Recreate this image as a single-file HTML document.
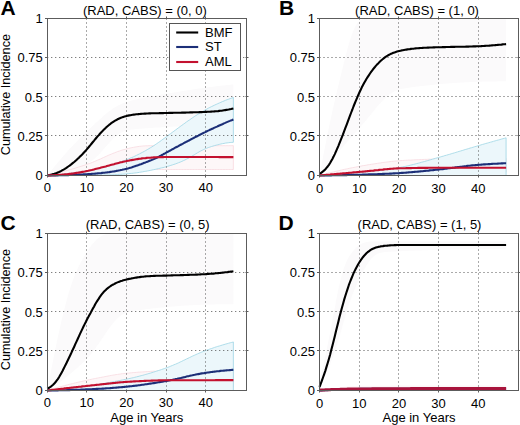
<!DOCTYPE html>
<html><head><meta charset="utf-8"><style>
html,body{margin:0;padding:0;background:#fff;width:520px;height:425px;overflow:hidden}
svg{display:block}
.t{font-family:"Liberation Sans", sans-serif;font-size:13px;fill:#000}
.L{font-family:"Liberation Sans", sans-serif;font-size:21px;font-weight:bold;fill:#000}
</style></head><body>
<svg width="520" height="425" viewBox="0 0 520 425">
<rect width="520" height="425" fill="#fff"/>
<path d="M47.2,175.5 L48.8,173.6 L50.4,171.6 L51.9,169.7 L53.5,167.7 L55.1,165.8 L56.6,163.9 L58.2,162.1 L59.8,160.2 L61.3,158.4 L62.9,156.6 L64.5,154.8 L66.0,153.0 L67.6,151.3 L69.1,149.5 L70.7,147.8 L72.3,146.2 L73.8,144.5 L75.4,142.9 L77.0,141.3 L78.5,139.7 L80.1,138.1 L81.7,136.6 L83.2,135.0 L84.8,133.5 L86.4,132.0 L87.9,130.5 L89.5,129.1 L91.0,127.6 L92.6,126.1 L94.2,124.6 L95.7,123.1 L97.3,121.7 L98.9,120.2 L100.4,118.8 L102.0,117.4 L103.6,116.0 L105.1,114.6 L106.7,113.3 L108.2,112.1 L109.8,110.9 L111.4,109.7 L112.9,108.6 L114.5,107.6 L116.1,106.7 L117.6,105.8 L119.2,105.0 L120.8,104.3 L122.3,103.6 L123.9,103.0 L125.5,102.5 L127.0,101.9 L128.6,101.5 L130.1,101.0 L131.7,100.6 L133.3,100.1 L134.8,99.7 L136.4,99.4 L138.0,99.0 L139.5,98.7 L141.1,98.3 L142.7,98.0 L144.2,97.7 L145.8,97.4 L147.3,97.1 L148.9,96.8 L150.5,96.5 L152.0,96.2 L153.6,96.0 L155.2,95.7 L156.7,95.4 L158.3,95.2 L159.9,94.9 L161.4,94.6 L163.0,94.4 L164.6,94.1 L166.1,93.8 L167.7,93.6 L169.2,93.3 L170.8,93.1 L172.4,92.8 L173.9,92.5 L175.5,92.3 L177.1,92.0 L178.6,91.7 L180.2,91.5 L181.8,91.2 L183.3,91.0 L184.9,90.7 L186.4,90.5 L188.0,90.2 L189.6,90.0 L191.1,89.8 L192.7,89.5 L194.3,89.3 L195.8,89.1 L197.4,88.8 L199.0,88.6 L200.5,88.4 L202.1,88.2 L203.7,87.9 L205.2,87.7 L206.8,87.5 L208.3,87.3 L209.9,87.1 L211.5,86.9 L213.0,86.7 L214.6,86.5 L216.2,86.3 L217.7,86.1 L219.3,85.9 L220.9,85.8 L222.4,85.6 L224.0,85.4 L225.5,85.2 L227.1,85.1 L228.7,84.9 L230.2,84.8 L231.8,84.6 L233.4,84.4 L233.4,125.3 L231.8,125.3 L230.2,125.3 L228.7,125.3 L227.1,125.3 L225.5,125.3 L224.0,125.3 L222.4,125.3 L220.9,125.3 L219.3,125.3 L217.7,125.4 L216.2,125.4 L214.6,125.4 L213.0,125.4 L211.5,125.4 L209.9,125.5 L208.3,125.5 L206.8,125.5 L205.2,125.5 L203.7,125.6 L202.1,125.6 L200.5,125.6 L199.0,125.7 L197.4,125.7 L195.8,125.8 L194.3,125.8 L192.7,125.9 L191.1,125.9 L189.6,126.0 L188.0,126.0 L186.4,126.1 L184.9,126.1 L183.3,126.2 L181.8,126.2 L180.2,126.3 L178.6,126.4 L177.1,126.4 L175.5,126.5 L173.9,126.6 L172.4,126.7 L170.8,126.7 L169.2,126.8 L167.7,126.9 L166.1,127.0 L164.6,127.1 L163.0,127.2 L161.4,127.3 L159.9,127.4 L158.3,127.4 L156.7,127.5 L155.2,127.6 L153.6,127.8 L152.0,127.9 L150.5,128.0 L148.9,128.1 L147.3,128.2 L145.8,128.3 L144.2,128.4 L142.7,128.6 L141.1,128.7 L139.5,128.8 L138.0,128.9 L136.4,129.1 L134.8,129.2 L133.3,129.4 L131.7,129.5 L130.1,129.8 L128.6,130.0 L127.0,130.3 L125.5,130.8 L123.9,131.3 L122.3,132.0 L120.8,132.8 L119.2,133.8 L117.6,134.9 L116.1,136.1 L114.5,137.5 L112.9,139.0 L111.4,140.6 L109.8,142.2 L108.2,143.9 L106.7,145.7 L105.1,147.5 L103.6,149.2 L102.0,151.0 L100.4,152.7 L98.9,154.4 L97.3,156.0 L95.7,157.5 L94.2,158.9 L92.6,160.2 L91.0,161.4 L89.5,162.5 L87.9,163.5 L86.4,164.4 L84.8,165.2 L83.2,165.9 L81.7,166.6 L80.1,167.2 L78.5,167.9 L77.0,168.5 L75.4,169.1 L73.8,169.7 L72.3,170.2 L70.7,170.8 L69.1,171.3 L67.6,171.8 L66.0,172.3 L64.5,172.7 L62.9,173.1 L61.3,173.5 L59.8,173.9 L58.2,174.2 L56.6,174.5 L55.1,174.7 L53.5,174.9 L51.9,175.1 L50.4,175.2 L48.8,175.3 L47.2,175.4Z" fill="#fbfafb" stroke="none"/>
<path d="M47.2,175.5 L48.8,175.1 L50.4,174.8 L51.9,174.4 L53.5,174.0 L55.1,173.7 L56.6,173.3 L58.2,172.9 L59.8,172.5 L61.3,172.1 L62.9,171.7 L64.5,171.2 L66.0,170.8 L67.6,170.4 L69.1,169.9 L70.7,169.5 L72.3,169.0 L73.8,168.6 L75.4,168.1 L77.0,167.6 L78.5,167.1 L80.1,166.6 L81.7,166.1 L83.2,165.6 L84.8,165.1 L86.4,164.6 L87.9,164.0 L89.5,163.5 L91.0,162.9 L92.6,162.3 L94.2,161.6 L95.7,161.0 L97.3,160.3 L98.9,159.6 L100.4,159.0 L102.0,158.2 L103.6,157.5 L105.1,156.8 L106.7,156.1 L108.2,155.4 L109.8,154.7 L111.4,154.1 L112.9,153.4 L114.5,152.8 L116.1,152.2 L117.6,151.6 L119.2,151.1 L120.8,150.5 L122.3,150.0 L123.9,149.6 L125.5,149.2 L127.0,148.8 L128.6,148.4 L130.1,148.0 L131.7,147.7 L133.3,147.4 L134.8,147.1 L136.4,146.8 L138.0,146.6 L139.5,146.4 L141.1,146.2 L142.7,146.0 L144.2,145.9 L145.8,145.8 L147.3,145.8 L148.9,145.7 L150.5,145.7 L152.0,145.7 L153.6,145.7 L155.2,145.7 L156.7,145.7 L158.3,145.7 L159.9,145.7 L161.4,145.7 L163.0,145.7 L164.6,145.7 L166.1,145.7 L167.7,145.7 L169.2,145.7 L170.8,145.7 L172.4,145.7 L173.9,145.7 L175.5,145.7 L177.1,145.7 L178.6,145.7 L180.2,145.7 L181.8,145.7 L183.3,145.7 L184.9,145.7 L186.4,145.7 L188.0,145.7 L189.6,145.7 L191.1,145.7 L192.7,145.7 L194.3,145.7 L195.8,145.7 L197.4,145.7 L199.0,145.7 L200.5,145.7 L202.1,145.7 L203.7,145.7 L205.2,145.7 L206.8,145.7 L208.3,145.7 L209.9,145.7 L211.5,145.7 L213.0,145.7 L214.6,145.7 L216.2,145.7 L217.7,145.7 L219.3,145.7 L220.9,145.7 L222.4,145.7 L224.0,145.7 L225.5,145.7 L227.1,145.7 L228.7,145.7 L230.2,145.7 L231.8,145.7 L233.4,145.7 L233.4,169.5 L231.8,169.5 L230.2,169.5 L228.7,169.5 L227.1,169.5 L225.5,169.5 L224.0,169.5 L222.4,169.5 L220.9,169.5 L219.3,169.5 L217.7,169.5 L216.2,169.5 L214.6,169.5 L213.0,169.5 L211.5,169.5 L209.9,169.5 L208.3,169.5 L206.8,169.5 L205.2,169.5 L203.7,169.5 L202.1,169.5 L200.5,169.5 L199.0,169.5 L197.4,169.5 L195.8,169.5 L194.3,169.5 L192.7,169.5 L191.1,169.5 L189.6,169.5 L188.0,169.5 L186.4,169.5 L184.9,169.5 L183.3,169.5 L181.8,169.5 L180.2,169.5 L178.6,169.5 L177.1,169.5 L175.5,169.5 L173.9,169.5 L172.4,169.5 L170.8,169.5 L169.2,169.5 L167.7,169.5 L166.1,169.5 L164.6,169.5 L163.0,169.5 L161.4,169.5 L159.9,169.5 L158.3,169.5 L156.7,169.5 L155.2,169.5 L153.6,169.5 L152.0,169.5 L150.5,169.5 L148.9,169.6 L147.3,169.6 L145.8,169.6 L144.2,169.6 L142.7,169.7 L141.1,169.8 L139.5,169.8 L138.0,169.9 L136.4,170.0 L134.8,170.2 L133.3,170.3 L131.7,170.4 L130.1,170.5 L128.6,170.6 L127.0,170.7 L125.5,170.8 L123.9,170.9 L122.3,171.0 L120.8,171.1 L119.2,171.2 L117.6,171.3 L116.1,171.4 L114.5,171.5 L112.9,171.6 L111.4,171.7 L109.8,171.8 L108.2,171.9 L106.7,172.0 L105.1,172.1 L103.6,172.2 L102.0,172.3 L100.4,172.4 L98.9,172.5 L97.3,172.6 L95.7,172.7 L94.2,172.8 L92.6,172.9 L91.0,172.9 L89.5,173.0 L87.9,173.1 L86.4,173.2 L84.8,173.3 L83.2,173.4 L81.7,173.5 L80.1,173.6 L78.5,173.7 L77.0,173.8 L75.4,173.9 L73.8,174.0 L72.3,174.1 L70.7,174.2 L69.1,174.2 L67.6,174.3 L66.0,174.4 L64.5,174.5 L62.9,174.6 L61.3,174.7 L59.8,174.8 L58.2,174.9 L56.6,175.0 L55.1,175.1 L53.5,175.1 L51.9,175.2 L50.4,175.3 L48.8,175.4 L47.2,175.5Z" fill="#fdf7f8" stroke="none"/>
<path d="M47.2,175.5 L48.8,175.1 L50.4,174.8 L51.9,174.4 L53.5,174.0 L55.1,173.7 L56.6,173.3 L58.2,172.9 L59.8,172.5 L61.3,172.1 L62.9,171.7 L64.5,171.2 L66.0,170.8 L67.6,170.4 L69.1,169.9 L70.7,169.5 L72.3,169.0 L73.8,168.6 L75.4,168.1 L77.0,167.6 L78.5,167.1 L80.1,166.6 L81.7,166.1 L83.2,165.6 L84.8,165.1 L86.4,164.6 L87.9,164.0 L89.5,163.5 L91.0,162.9 L92.6,162.3 L94.2,161.6 L95.7,161.0 L97.3,160.3 L98.9,159.6 L100.4,159.0 L102.0,158.2 L103.6,157.5 L105.1,156.8 L106.7,156.1 L108.2,155.4 L109.8,154.7 L111.4,154.1 L112.9,153.4 L114.5,152.8 L116.1,152.2 L117.6,151.6 L119.2,151.1 L120.8,150.5 L122.3,150.0 L123.9,149.6 L125.5,149.2 L127.0,148.8 L128.6,148.4 L130.1,148.0 L131.7,147.7 L133.3,147.4 L134.8,147.1 L136.4,146.8 L138.0,146.6 L139.5,146.4 L141.1,146.2 L142.7,146.0 L144.2,145.9 L145.8,145.8 L147.3,145.8 L148.9,145.7 L150.5,145.7 L152.0,145.7 L153.6,145.7 L155.2,145.7 L156.7,145.7 L158.3,145.7 L159.9,145.7 L161.4,145.7 L163.0,145.7 L164.6,145.7 L166.1,145.7 L167.7,145.7 L169.2,145.7 L170.8,145.7 L172.4,145.7 L173.9,145.7 L175.5,145.7 L177.1,145.7 L178.6,145.7 L180.2,145.7 L181.8,145.7 L183.3,145.7 L184.9,145.7 L186.4,145.7 L188.0,145.7 L189.6,145.7 L191.1,145.7 L192.7,145.7 L194.3,145.7 L195.8,145.7 L197.4,145.7 L199.0,145.7 L200.5,145.7 L202.1,145.7 L203.7,145.7 L205.2,145.7 L206.8,145.7 L208.3,145.7 L209.9,145.7 L211.5,145.7 L213.0,145.7 L214.6,145.7 L216.2,145.7 L217.7,145.7 L219.3,145.7 L220.9,145.7 L222.4,145.7 L224.0,145.7 L225.5,145.7 L227.1,145.7 L228.7,145.7 L230.2,145.7 L231.8,145.7 L233.4,145.7" fill="none" stroke="#f7d9e0" stroke-width="0.8"/>
<path d="M47.2,175.5 L48.8,175.4 L50.4,175.3 L51.9,175.2 L53.5,175.1 L55.1,175.1 L56.6,175.0 L58.2,174.9 L59.8,174.8 L61.3,174.7 L62.9,174.6 L64.5,174.5 L66.0,174.4 L67.6,174.3 L69.1,174.2 L70.7,174.2 L72.3,174.1 L73.8,174.0 L75.4,173.9 L77.0,173.8 L78.5,173.7 L80.1,173.6 L81.7,173.5 L83.2,173.4 L84.8,173.3 L86.4,173.2 L87.9,173.1 L89.5,173.0 L91.0,172.9 L92.6,172.9 L94.2,172.8 L95.7,172.7 L97.3,172.6 L98.9,172.5 L100.4,172.4 L102.0,172.3 L103.6,172.2 L105.1,172.1 L106.7,172.0 L108.2,171.9 L109.8,171.8 L111.4,171.7 L112.9,171.6 L114.5,171.5 L116.1,171.4 L117.6,171.3 L119.2,171.2 L120.8,171.1 L122.3,171.0 L123.9,170.9 L125.5,170.8 L127.0,170.7 L128.6,170.6 L130.1,170.5 L131.7,170.4 L133.3,170.3 L134.8,170.2 L136.4,170.0 L138.0,169.9 L139.5,169.8 L141.1,169.8 L142.7,169.7 L144.2,169.6 L145.8,169.6 L147.3,169.6 L148.9,169.6 L150.5,169.5 L152.0,169.5 L153.6,169.5 L155.2,169.5 L156.7,169.5 L158.3,169.5 L159.9,169.5 L161.4,169.5 L163.0,169.5 L164.6,169.5 L166.1,169.5 L167.7,169.5 L169.2,169.5 L170.8,169.5 L172.4,169.5 L173.9,169.5 L175.5,169.5 L177.1,169.5 L178.6,169.5 L180.2,169.5 L181.8,169.5 L183.3,169.5 L184.9,169.5 L186.4,169.5 L188.0,169.5 L189.6,169.5 L191.1,169.5 L192.7,169.5 L194.3,169.5 L195.8,169.5 L197.4,169.5 L199.0,169.5 L200.5,169.5 L202.1,169.5 L203.7,169.5 L205.2,169.5 L206.8,169.5 L208.3,169.5 L209.9,169.5 L211.5,169.5 L213.0,169.5 L214.6,169.5 L216.2,169.5 L217.7,169.5 L219.3,169.5 L220.9,169.5 L222.4,169.5 L224.0,169.5 L225.5,169.5 L227.1,169.5 L228.7,169.5 L230.2,169.5 L231.8,169.5 L233.4,169.5" fill="none" stroke="#f7d9e0" stroke-width="0.8"/>
<line x1="233.37" y1="145.67" x2="233.37" y2="169.53" stroke="#f7d9e0" stroke-width="0.8"/>
<path d="M47.2,175.5 L48.8,175.4 L50.4,175.3 L51.9,175.2 L53.5,175.1 L55.1,175.0 L56.6,174.8 L58.2,174.7 L59.8,174.6 L61.3,174.4 L62.9,174.2 L64.5,174.1 L66.0,173.9 L67.6,173.7 L69.1,173.5 L70.7,173.3 L72.3,173.0 L73.8,172.8 L75.4,172.6 L77.0,172.4 L78.5,172.1 L80.1,171.9 L81.7,171.6 L83.2,171.4 L84.8,171.1 L86.4,170.8 L87.9,170.6 L89.5,170.3 L91.0,170.0 L92.6,169.7 L94.2,169.3 L95.7,169.0 L97.3,168.6 L98.9,168.3 L100.4,167.9 L102.0,167.5 L103.6,167.1 L105.1,166.6 L106.7,166.2 L108.2,165.8 L109.8,165.3 L111.4,164.8 L112.9,164.3 L114.5,163.9 L116.1,163.3 L117.6,162.8 L119.2,162.3 L120.8,161.8 L122.3,161.2 L123.9,160.7 L125.5,160.1 L127.0,159.5 L128.6,158.9 L130.1,158.2 L131.7,157.6 L133.3,156.9 L134.8,156.2 L136.4,155.4 L138.0,154.6 L139.5,153.9 L141.1,153.0 L142.7,152.2 L144.2,151.4 L145.8,150.5 L147.3,149.6 L148.9,148.7 L150.5,147.7 L152.0,146.8 L153.6,145.8 L155.2,144.7 L156.7,143.7 L158.3,142.6 L159.9,141.5 L161.4,140.4 L163.0,139.2 L164.6,138.1 L166.1,137.0 L167.7,135.8 L169.2,134.6 L170.8,133.5 L172.4,132.3 L173.9,131.2 L175.5,130.0 L177.1,128.8 L178.6,127.7 L180.2,126.5 L181.8,125.4 L183.3,124.3 L184.9,123.2 L186.4,122.0 L188.0,120.9 L189.6,119.9 L191.1,118.8 L192.7,117.7 L194.3,116.6 L195.8,115.6 L197.4,114.6 L199.0,113.6 L200.5,112.6 L202.1,111.7 L203.7,110.8 L205.2,109.9 L206.8,109.1 L208.3,108.2 L209.9,107.4 L211.5,106.6 L213.0,105.9 L214.6,105.1 L216.2,104.4 L217.7,103.7 L219.3,103.0 L220.9,102.3 L222.4,101.6 L224.0,101.0 L225.5,100.3 L227.1,99.7 L228.7,99.2 L230.2,98.6 L231.8,98.0 L233.4,97.5 L233.4,142.3 L231.8,142.4 L230.2,142.5 L228.7,142.7 L227.1,142.9 L225.5,143.1 L224.0,143.4 L222.4,143.7 L220.9,144.0 L219.3,144.4 L217.7,144.8 L216.2,145.2 L214.6,145.6 L213.0,146.1 L211.5,146.5 L209.9,147.1 L208.3,147.6 L206.8,148.2 L205.2,148.8 L203.7,149.5 L202.1,150.3 L200.5,151.1 L199.0,151.9 L197.4,152.9 L195.8,153.8 L194.3,154.8 L192.7,155.7 L191.1,156.7 L189.6,157.6 L188.0,158.4 L186.4,159.2 L184.9,160.0 L183.3,160.7 L181.8,161.4 L180.2,162.1 L178.6,162.7 L177.1,163.3 L175.5,163.9 L173.9,164.4 L172.4,164.9 L170.8,165.4 L169.2,165.9 L167.7,166.3 L166.1,166.8 L164.6,167.2 L163.0,167.6 L161.4,167.9 L159.9,168.3 L158.3,168.7 L156.7,169.0 L155.2,169.4 L153.6,169.7 L152.0,170.0 L150.5,170.4 L148.9,170.7 L147.3,171.0 L145.8,171.3 L144.2,171.5 L142.7,171.8 L141.1,172.1 L139.5,172.3 L138.0,172.6 L136.4,172.8 L134.8,173.0 L133.3,173.2 L131.7,173.4 L130.1,173.5 L128.6,173.7 L127.0,173.8 L125.5,174.0 L123.9,174.1 L122.3,174.2 L120.8,174.3 L119.2,174.4 L117.6,174.5 L116.1,174.6 L114.5,174.7 L112.9,174.8 L111.4,174.9 L109.8,174.9 L108.2,175.0 L106.7,175.0 L105.1,175.0 L103.6,175.1 L102.0,175.1 L100.4,175.1 L98.9,175.1 L97.3,175.2 L95.7,175.2 L94.2,175.2 L92.6,175.2 L91.0,175.2 L89.5,175.3 L87.9,175.3 L86.4,175.3 L84.8,175.3 L83.2,175.3 L81.7,175.3 L80.1,175.4 L78.5,175.4 L77.0,175.4 L75.4,175.4 L73.8,175.4 L72.3,175.4 L70.7,175.4 L69.1,175.4 L67.6,175.4 L66.0,175.4 L64.5,175.5 L62.9,175.5 L61.3,175.5 L59.8,175.5 L58.2,175.5 L56.6,175.5 L55.1,175.5 L53.5,175.5 L51.9,175.5 L50.4,175.5 L48.8,175.5 L47.2,175.5Z" fill="#ecf7fb" stroke="none"/>
<path d="M47.2,175.5 L48.8,175.4 L50.4,175.3 L51.9,175.2 L53.5,175.1 L55.1,175.0 L56.6,174.8 L58.2,174.7 L59.8,174.6 L61.3,174.4 L62.9,174.2 L64.5,174.1 L66.0,173.9 L67.6,173.7 L69.1,173.5 L70.7,173.3 L72.3,173.0 L73.8,172.8 L75.4,172.6 L77.0,172.4 L78.5,172.1 L80.1,171.9 L81.7,171.6 L83.2,171.4 L84.8,171.1 L86.4,170.8 L87.9,170.6 L89.5,170.3 L91.0,170.0 L92.6,169.7 L94.2,169.3 L95.7,169.0 L97.3,168.6 L98.9,168.3 L100.4,167.9 L102.0,167.5 L103.6,167.1 L105.1,166.6 L106.7,166.2 L108.2,165.8 L109.8,165.3 L111.4,164.8 L112.9,164.3 L114.5,163.9 L116.1,163.3 L117.6,162.8 L119.2,162.3 L120.8,161.8 L122.3,161.2 L123.9,160.7 L125.5,160.1 L127.0,159.5 L128.6,158.9 L130.1,158.2 L131.7,157.6 L133.3,156.9 L134.8,156.2 L136.4,155.4 L138.0,154.6 L139.5,153.9 L141.1,153.0 L142.7,152.2 L144.2,151.4 L145.8,150.5 L147.3,149.6 L148.9,148.7 L150.5,147.7 L152.0,146.8 L153.6,145.8 L155.2,144.7 L156.7,143.7 L158.3,142.6 L159.9,141.5 L161.4,140.4 L163.0,139.2 L164.6,138.1 L166.1,137.0 L167.7,135.8 L169.2,134.6 L170.8,133.5 L172.4,132.3 L173.9,131.2 L175.5,130.0 L177.1,128.8 L178.6,127.7 L180.2,126.5 L181.8,125.4 L183.3,124.3 L184.9,123.2 L186.4,122.0 L188.0,120.9 L189.6,119.9 L191.1,118.8 L192.7,117.7 L194.3,116.6 L195.8,115.6 L197.4,114.6 L199.0,113.6 L200.5,112.6 L202.1,111.7 L203.7,110.8 L205.2,109.9 L206.8,109.1 L208.3,108.2 L209.9,107.4 L211.5,106.6 L213.0,105.9 L214.6,105.1 L216.2,104.4 L217.7,103.7 L219.3,103.0 L220.9,102.3 L222.4,101.6 L224.0,101.0 L225.5,100.3 L227.1,99.7 L228.7,99.2 L230.2,98.6 L231.8,98.0 L233.4,97.5" fill="none" stroke="#9dd5e4" stroke-width="0.8"/>
<path d="M47.2,175.5 L48.8,175.5 L50.4,175.5 L51.9,175.5 L53.5,175.5 L55.1,175.5 L56.6,175.5 L58.2,175.5 L59.8,175.5 L61.3,175.5 L62.9,175.5 L64.5,175.5 L66.0,175.4 L67.6,175.4 L69.1,175.4 L70.7,175.4 L72.3,175.4 L73.8,175.4 L75.4,175.4 L77.0,175.4 L78.5,175.4 L80.1,175.4 L81.7,175.3 L83.2,175.3 L84.8,175.3 L86.4,175.3 L87.9,175.3 L89.5,175.3 L91.0,175.2 L92.6,175.2 L94.2,175.2 L95.7,175.2 L97.3,175.2 L98.9,175.1 L100.4,175.1 L102.0,175.1 L103.6,175.1 L105.1,175.0 L106.7,175.0 L108.2,175.0 L109.8,174.9 L111.4,174.9 L112.9,174.8 L114.5,174.7 L116.1,174.6 L117.6,174.5 L119.2,174.4 L120.8,174.3 L122.3,174.2 L123.9,174.1 L125.5,174.0 L127.0,173.8 L128.6,173.7 L130.1,173.5 L131.7,173.4 L133.3,173.2 L134.8,173.0 L136.4,172.8 L138.0,172.6 L139.5,172.3 L141.1,172.1 L142.7,171.8 L144.2,171.5 L145.8,171.3 L147.3,171.0 L148.9,170.7 L150.5,170.4 L152.0,170.0 L153.6,169.7 L155.2,169.4 L156.7,169.0 L158.3,168.7 L159.9,168.3 L161.4,167.9 L163.0,167.6 L164.6,167.2 L166.1,166.8 L167.7,166.3 L169.2,165.9 L170.8,165.4 L172.4,164.9 L173.9,164.4 L175.5,163.9 L177.1,163.3 L178.6,162.7 L180.2,162.1 L181.8,161.4 L183.3,160.7 L184.9,160.0 L186.4,159.2 L188.0,158.4 L189.6,157.6 L191.1,156.7 L192.7,155.7 L194.3,154.8 L195.8,153.8 L197.4,152.9 L199.0,151.9 L200.5,151.1 L202.1,150.3 L203.7,149.5 L205.2,148.8 L206.8,148.2 L208.3,147.6 L209.9,147.1 L211.5,146.5 L213.0,146.1 L214.6,145.6 L216.2,145.2 L217.7,144.8 L219.3,144.4 L220.9,144.0 L222.4,143.7 L224.0,143.4 L225.5,143.1 L227.1,142.9 L228.7,142.7 L230.2,142.5 L231.8,142.4 L233.4,142.3" fill="none" stroke="#9dd5e4" stroke-width="0.8"/>
<line x1="233.37" y1="97.47" x2="233.37" y2="142.22" stroke="#9dd5e4" stroke-width="0.8"/>
<line x1="47.50" y1="18.50" x2="47.50" y2="175.50" stroke="#555555" stroke-width="1" stroke-dasharray="1,3"/>
<line x1="86.50" y1="18.50" x2="86.50" y2="175.50" stroke="#555555" stroke-width="1" stroke-dasharray="1,3"/>
<line x1="126.50" y1="18.50" x2="126.50" y2="175.50" stroke="#555555" stroke-width="1" stroke-dasharray="1,3"/>
<line x1="166.50" y1="18.50" x2="166.50" y2="175.50" stroke="#555555" stroke-width="1" stroke-dasharray="1,3"/>
<line x1="205.50" y1="18.50" x2="205.50" y2="175.50" stroke="#555555" stroke-width="1" stroke-dasharray="1,3"/>
<line x1="47.25" y1="135.50" x2="246.50" y2="135.50" stroke="#555555" stroke-width="1" stroke-dasharray="1,3"/>
<line x1="47.25" y1="96.50" x2="246.50" y2="96.50" stroke="#555555" stroke-width="1" stroke-dasharray="1,3"/>
<line x1="47.25" y1="57.50" x2="246.50" y2="57.50" stroke="#555555" stroke-width="1" stroke-dasharray="1,3"/>
<path d="M47.2,175.4 L48.4,175.2 L49.6,175.0 L50.8,174.7 L51.9,174.4 L53.1,174.1 L54.3,173.8 L55.4,173.4 L56.6,173.0 L57.8,172.5 L59.0,172.0 L60.1,171.5 L61.3,170.9 L62.5,170.2 L63.6,169.6 L64.8,168.9 L66.0,168.1 L67.1,167.3 L68.3,166.5 L69.5,165.7 L70.7,164.8 L71.8,163.9 L73.0,162.9 L74.2,162.0 L75.3,161.0 L76.5,159.9 L77.7,158.8 L78.9,157.7 L80.0,156.6 L81.2,155.4 L82.4,154.2 L83.5,153.0 L84.7,151.7 L85.9,150.4 L87.0,149.1 L88.2,147.7 L89.4,146.3 L90.6,144.9 L91.7,143.5 L92.9,142.0 L94.1,140.6 L95.2,139.2 L96.4,137.8 L97.6,136.4 L98.8,135.1 L99.9,133.8 L101.1,132.5 L102.3,131.3 L103.4,130.1 L104.6,128.9 L105.8,127.8 L106.9,126.7 L108.1,125.7 L109.3,124.7 L110.5,123.8 L111.6,122.9 L112.8,122.1 L114.0,121.3 L115.1,120.6 L116.3,120.0 L117.5,119.3 L118.7,118.7 L119.8,118.2 L121.0,117.7 L122.2,117.3 L123.3,116.9 L124.5,116.5 L125.7,116.2 L126.8,115.9 L128.0,115.6 L129.2,115.4 L130.4,115.2 L131.5,115.0 L132.7,114.8 L133.9,114.6 L135.0,114.5 L136.2,114.3 L137.4,114.2 L138.6,114.1 L139.7,114.0 L140.9,113.9 L142.1,113.8 L143.2,113.7 L144.4,113.6 L145.6,113.6 L146.7,113.5 L147.9,113.5 L149.1,113.4 L150.3,113.4 L151.4,113.3 L152.6,113.3 L153.8,113.3 L154.9,113.3 L156.1,113.2 L157.3,113.2 L158.5,113.2 L159.6,113.1 L160.8,113.1 L162.0,113.1 L163.1,113.1 L164.3,113.0 L165.5,113.0 L166.6,113.0 L167.8,113.0 L169.0,112.9 L170.2,112.9 L171.3,112.9 L172.5,112.9 L173.7,112.8 L174.8,112.8 L176.0,112.8 L177.2,112.8 L178.4,112.7 L179.5,112.7 L180.7,112.7 L181.9,112.6 L183.0,112.6 L184.2,112.6 L185.4,112.6 L186.5,112.5 L187.7,112.5 L188.9,112.5 L190.1,112.4 L191.2,112.4 L192.4,112.4 L193.6,112.3 L194.7,112.3 L195.9,112.3 L197.1,112.2 L198.3,112.2 L199.4,112.1 L200.6,112.1 L201.8,112.1 L202.9,112.0 L204.1,112.0 L205.3,111.9 L206.4,111.9 L207.6,111.8 L208.8,111.7 L210.0,111.7 L211.1,111.6 L212.3,111.5 L213.5,111.5 L214.6,111.4 L215.8,111.3 L217.0,111.2 L218.2,111.1 L219.3,110.9 L220.5,110.8 L221.7,110.7 L222.8,110.5 L224.0,110.3 L225.2,110.1 L226.3,109.9 L227.5,109.7 L228.7,109.5 L229.9,109.2 L231.0,109.0 L232.2,108.7 L233.4,108.4" fill="none" stroke="#000" stroke-width="2.10" stroke-linejoin="round"/>
<path d="M47.2,175.5 L48.4,175.5 L49.6,175.5 L50.8,175.5 L51.9,175.5 L53.1,175.4 L54.3,175.4 L55.4,175.4 L56.6,175.4 L57.8,175.4 L59.0,175.3 L60.1,175.3 L61.3,175.3 L62.5,175.2 L63.6,175.2 L64.8,175.2 L66.0,175.1 L67.1,175.1 L68.3,175.1 L69.5,175.0 L70.7,175.0 L71.8,174.9 L73.0,174.9 L74.2,174.8 L75.3,174.8 L76.5,174.7 L77.7,174.7 L78.9,174.6 L80.0,174.6 L81.2,174.5 L82.4,174.5 L83.5,174.4 L84.7,174.3 L85.9,174.3 L87.0,174.2 L88.2,174.1 L89.4,174.1 L90.6,174.0 L91.7,173.9 L92.9,173.8 L94.1,173.7 L95.2,173.6 L96.4,173.5 L97.6,173.4 L98.8,173.3 L99.9,173.2 L101.1,173.1 L102.3,172.9 L103.4,172.8 L104.6,172.7 L105.8,172.5 L106.9,172.4 L108.1,172.2 L109.3,172.1 L110.5,171.9 L111.6,171.7 L112.8,171.5 L114.0,171.4 L115.1,171.2 L116.3,170.9 L117.5,170.7 L118.7,170.5 L119.8,170.3 L121.0,170.0 L122.2,169.8 L123.3,169.5 L124.5,169.3 L125.7,169.0 L126.8,168.7 L128.0,168.4 L129.2,168.1 L130.4,167.7 L131.5,167.4 L132.7,167.0 L133.9,166.6 L135.0,166.2 L136.2,165.8 L137.4,165.4 L138.6,165.0 L139.7,164.6 L140.9,164.2 L142.1,163.7 L143.2,163.3 L144.4,162.8 L145.6,162.4 L146.7,161.9 L147.9,161.5 L149.1,161.0 L150.3,160.6 L151.4,160.1 L152.6,159.6 L153.8,159.1 L154.9,158.6 L156.1,158.0 L157.3,157.5 L158.5,156.9 L159.6,156.3 L160.8,155.7 L162.0,155.0 L163.1,154.4 L164.3,153.7 L165.5,153.1 L166.6,152.4 L167.8,151.8 L169.0,151.1 L170.2,150.5 L171.3,149.9 L172.5,149.2 L173.7,148.6 L174.8,147.9 L176.0,147.3 L177.2,146.7 L178.4,146.1 L179.5,145.4 L180.7,144.8 L181.9,144.2 L183.0,143.6 L184.2,142.9 L185.4,142.3 L186.5,141.7 L187.7,141.1 L188.9,140.5 L190.1,139.8 L191.2,139.2 L192.4,138.6 L193.6,138.0 L194.7,137.4 L195.9,136.8 L197.1,136.2 L198.3,135.6 L199.4,135.0 L200.6,134.4 L201.8,133.8 L202.9,133.2 L204.1,132.6 L205.3,132.1 L206.4,131.5 L207.6,130.9 L208.8,130.4 L210.0,129.8 L211.1,129.3 L212.3,128.7 L213.5,128.2 L214.6,127.6 L215.8,127.1 L217.0,126.6 L218.2,126.0 L219.3,125.5 L220.5,125.0 L221.7,124.5 L222.8,124.0 L224.0,123.4 L225.2,122.9 L226.3,122.4 L227.5,121.9 L228.7,121.4 L229.9,120.9 L231.0,120.4 L232.2,120.0 L233.4,119.5" fill="none" stroke="#1c2f78" stroke-width="2.10" stroke-linejoin="round"/>
<path d="M47.2,175.5 L48.4,175.4 L49.6,175.4 L50.8,175.4 L51.9,175.3 L53.1,175.2 L54.3,175.2 L55.4,175.1 L56.6,175.0 L57.8,175.0 L59.0,174.9 L60.1,174.8 L61.3,174.7 L62.5,174.6 L63.6,174.5 L64.8,174.4 L66.0,174.3 L67.1,174.2 L68.3,174.0 L69.5,173.9 L70.7,173.8 L71.8,173.6 L73.0,173.5 L74.2,173.3 L75.3,173.1 L76.5,172.9 L77.7,172.8 L78.9,172.6 L80.0,172.4 L81.2,172.1 L82.4,171.9 L83.5,171.7 L84.7,171.5 L85.9,171.2 L87.0,171.0 L88.2,170.8 L89.4,170.5 L90.6,170.2 L91.7,170.0 L92.9,169.7 L94.1,169.4 L95.2,169.1 L96.4,168.8 L97.6,168.5 L98.8,168.2 L99.9,167.9 L101.1,167.6 L102.3,167.3 L103.4,167.0 L104.6,166.7 L105.8,166.4 L106.9,166.0 L108.1,165.7 L109.3,165.4 L110.5,165.1 L111.6,164.8 L112.8,164.5 L114.0,164.2 L115.1,163.8 L116.3,163.5 L117.5,163.2 L118.7,162.9 L119.8,162.6 L121.0,162.3 L122.2,162.1 L123.3,161.8 L124.5,161.5 L125.7,161.3 L126.8,161.0 L128.0,160.8 L129.2,160.6 L130.4,160.3 L131.5,160.1 L132.7,159.9 L133.9,159.7 L135.0,159.5 L136.2,159.3 L137.4,159.1 L138.6,158.9 L139.7,158.7 L140.9,158.6 L142.1,158.4 L143.2,158.3 L144.4,158.2 L145.6,158.1 L146.7,157.9 L147.9,157.8 L149.1,157.7 L150.3,157.7 L151.4,157.6 L152.6,157.5 L153.8,157.4 L154.9,157.4 L156.1,157.3 L157.3,157.3 L158.5,157.2 L159.6,157.2 L160.8,157.1 L162.0,157.1 L163.1,157.1 L164.3,157.0 L165.5,157.0 L166.6,157.0 L167.8,157.0 L169.0,157.0 L170.2,157.0 L171.3,157.0 L172.5,157.0 L173.7,157.0 L174.8,157.0 L176.0,157.0 L177.2,157.0 L178.4,157.0 L179.5,157.0 L180.7,157.0 L181.9,157.0 L183.0,157.0 L184.2,157.0 L185.4,157.0 L186.5,157.0 L187.7,157.0 L188.9,157.0 L190.1,157.0 L191.2,157.0 L192.4,157.0 L193.6,157.0 L194.7,157.0 L195.9,157.0 L197.1,157.0 L198.3,157.0 L199.4,157.0 L200.6,157.0 L201.8,157.0 L202.9,157.0 L204.1,157.0 L205.3,157.0 L206.4,157.0 L207.6,157.0 L208.8,157.0 L210.0,157.0 L211.1,157.0 L212.3,157.0 L213.5,157.0 L214.6,157.0 L215.8,157.0 L217.0,157.0 L218.2,157.0 L219.3,157.1 L220.5,157.1 L221.7,157.1 L222.8,157.1 L224.0,157.1 L225.2,157.1 L226.3,157.1 L227.5,157.1 L228.7,157.1 L229.9,157.1 L231.0,157.1 L232.2,157.1 L233.4,157.1" fill="none" stroke="#c3112f" stroke-width="2.10" stroke-linejoin="round"/>
<rect x="47.50" y="18.50" width="199.00" height="157.00" fill="none" stroke="#5c5c5c" stroke-width="1"/>
<line x1="47.50" y1="175.50" x2="47.50" y2="177.50" stroke="#5c5c5c" stroke-width="1"/>
<line x1="86.50" y1="175.50" x2="86.50" y2="177.50" stroke="#5c5c5c" stroke-width="1"/>
<line x1="126.50" y1="175.50" x2="126.50" y2="177.50" stroke="#5c5c5c" stroke-width="1"/>
<line x1="166.50" y1="175.50" x2="166.50" y2="177.50" stroke="#5c5c5c" stroke-width="1"/>
<line x1="205.50" y1="175.50" x2="205.50" y2="177.50" stroke="#5c5c5c" stroke-width="1"/>
<line x1="45.00" y1="175.50" x2="47.00" y2="175.50" stroke="#5c5c5c" stroke-width="1"/>
<line x1="45.00" y1="135.50" x2="47.00" y2="135.50" stroke="#5c5c5c" stroke-width="1"/>
<line x1="45.00" y1="96.50" x2="47.00" y2="96.50" stroke="#5c5c5c" stroke-width="1"/>
<line x1="45.00" y1="57.50" x2="47.00" y2="57.50" stroke="#5c5c5c" stroke-width="1"/>
<line x1="45.00" y1="18.50" x2="47.00" y2="18.50" stroke="#5c5c5c" stroke-width="1"/>
<line x1="86.50" y1="16.50" x2="86.50" y2="18.50" stroke="#5c5c5c" stroke-width="1"/>
<line x1="126.50" y1="16.50" x2="126.50" y2="18.50" stroke="#5c5c5c" stroke-width="1"/>
<line x1="166.50" y1="16.50" x2="166.50" y2="18.50" stroke="#5c5c5c" stroke-width="1"/>
<line x1="205.50" y1="16.50" x2="205.50" y2="18.50" stroke="#5c5c5c" stroke-width="1"/>
<line x1="245.50" y1="135.50" x2="248.50" y2="135.50" stroke="#5c5c5c" stroke-width="1"/>
<line x1="245.50" y1="96.50" x2="248.50" y2="96.50" stroke="#5c5c5c" stroke-width="1"/>
<line x1="245.50" y1="57.50" x2="248.50" y2="57.50" stroke="#5c5c5c" stroke-width="1"/>
<text x="47.25" y="192.30" text-anchor="middle" class="t">0</text>
<text x="86.85" y="192.30" text-anchor="middle" class="t">10</text>
<text x="126.45" y="192.30" text-anchor="middle" class="t">20</text>
<text x="166.05" y="192.30" text-anchor="middle" class="t">30</text>
<text x="205.65" y="192.30" text-anchor="middle" class="t">40</text>
<text x="42.75" y="180.00" text-anchor="end" class="t">0</text>
<text x="42.75" y="140.75" text-anchor="end" class="t">0.25</text>
<text x="42.75" y="101.50" text-anchor="end" class="t">0.5</text>
<text x="42.75" y="62.25" text-anchor="end" class="t">0.75</text>
<text x="42.75" y="23.00" text-anchor="end" class="t">1</text>
<text x="144.88" y="14.50" text-anchor="middle" class="t">(RAD, CABS) = (0, 0)</text>
<text x="0.50" y="15.30" class="L">A</text>
<path d="M319.5,175.8 L321.1,167.4 L322.6,159.1 L324.2,151.0 L325.8,143.0 L327.3,135.2 L328.9,127.5 L330.5,120.1 L332.0,112.9 L333.6,105.8 L335.2,99.0 L336.7,92.3 L338.3,85.7 L339.9,79.2 L341.5,72.7 L343.0,66.4 L344.6,60.1 L346.2,54.0 L347.7,48.1 L349.3,42.6 L350.9,37.5 L352.4,33.0 L354.0,29.2 L355.6,26.0 L357.1,23.5 L358.7,21.7 L360.3,20.4 L361.8,19.6 L363.4,19.0 L365.0,18.8 L366.5,18.6 L368.1,18.5 L369.7,18.5 L371.2,18.5 L372.8,18.5 L374.4,18.5 L375.9,18.5 L377.5,18.5 L379.1,18.5 L380.7,18.5 L382.2,18.5 L383.8,18.5 L385.4,18.5 L386.9,18.5 L388.5,18.5 L390.1,18.5 L391.6,18.5 L393.2,18.5 L394.8,18.5 L396.3,18.5 L397.9,18.5 L399.5,18.5 L401.0,18.5 L402.6,18.5 L404.2,18.5 L405.7,18.5 L407.3,18.5 L408.9,18.5 L410.4,18.5 L412.0,18.5 L413.6,18.5 L415.1,18.5 L416.7,18.5 L418.3,18.5 L419.9,18.5 L421.4,18.5 L423.0,18.5 L424.6,18.5 L426.1,18.5 L427.7,18.5 L429.3,18.5 L430.8,18.5 L432.4,18.5 L434.0,18.5 L435.5,18.5 L437.1,18.5 L438.7,18.5 L440.2,18.5 L441.8,18.5 L443.4,18.5 L444.9,18.5 L446.5,18.5 L448.1,18.5 L449.6,18.5 L451.2,18.5 L452.8,18.5 L454.3,18.5 L455.9,18.5 L457.5,18.5 L459.1,18.5 L460.6,18.5 L462.2,18.5 L463.8,18.5 L465.3,18.5 L466.9,18.5 L468.5,18.5 L470.0,18.5 L471.6,18.5 L473.2,18.5 L474.7,18.5 L476.3,18.5 L477.9,18.5 L479.4,18.5 L481.0,18.5 L482.6,18.5 L484.1,18.5 L485.7,18.5 L487.3,18.5 L488.8,18.5 L490.4,18.5 L492.0,18.5 L493.5,18.5 L495.1,18.5 L496.7,18.5 L498.3,18.5 L499.8,18.5 L501.4,18.5 L503.0,18.5 L504.5,18.5 L506.1,18.5 L506.1,81.3 L504.5,81.3 L503.0,81.3 L501.4,81.3 L499.8,81.3 L498.3,81.3 L496.7,81.4 L495.1,81.4 L493.5,81.4 L492.0,81.4 L490.4,81.5 L488.8,81.5 L487.3,81.5 L485.7,81.6 L484.1,81.6 L482.6,81.6 L481.0,81.7 L479.4,81.7 L477.9,81.8 L476.3,81.9 L474.7,81.9 L473.2,82.0 L471.6,82.0 L470.0,82.1 L468.5,82.2 L466.9,82.3 L465.3,82.3 L463.8,82.4 L462.2,82.5 L460.6,82.6 L459.1,82.7 L457.5,82.8 L455.9,82.9 L454.3,83.0 L452.8,83.1 L451.2,83.2 L449.6,83.3 L448.1,83.5 L446.5,83.6 L444.9,83.7 L443.4,83.8 L441.8,84.0 L440.2,84.1 L438.7,84.3 L437.1,84.4 L435.5,84.6 L434.0,84.7 L432.4,84.9 L430.8,85.0 L429.3,85.2 L427.7,85.4 L426.1,85.5 L424.6,85.7 L423.0,85.9 L421.4,86.1 L419.9,86.3 L418.3,86.4 L416.7,86.6 L415.1,86.8 L413.6,87.1 L412.0,87.3 L410.4,87.5 L408.9,87.7 L407.3,87.9 L405.7,88.2 L404.2,88.4 L402.6,88.7 L401.0,89.0 L399.5,89.4 L397.9,89.9 L396.3,90.4 L394.8,91.1 L393.2,91.9 L391.6,92.9 L390.1,93.9 L388.5,95.1 L386.9,96.4 L385.4,97.8 L383.8,99.4 L382.2,101.0 L380.7,102.7 L379.1,104.4 L377.5,106.2 L375.9,108.1 L374.4,110.0 L372.8,111.9 L371.2,113.9 L369.7,115.8 L368.1,117.7 L366.5,119.7 L365.0,121.6 L363.4,123.4 L361.8,125.3 L360.3,127.1 L358.7,128.9 L357.1,130.6 L355.6,132.4 L354.0,134.1 L352.4,135.9 L350.9,137.7 L349.3,139.4 L347.7,141.2 L346.2,143.0 L344.6,144.8 L343.0,146.7 L341.5,148.5 L339.9,150.3 L338.3,152.2 L336.7,154.1 L335.2,156.0 L333.6,157.9 L332.0,159.8 L330.5,161.7 L328.9,163.7 L327.3,165.6 L325.8,167.6 L324.2,169.6 L322.6,171.5 L321.1,173.5 L319.5,175.5Z" fill="#fbfafb" stroke="none"/>
<path d="M319.5,175.5 L321.1,175.1 L322.6,174.7 L324.2,174.3 L325.8,173.8 L327.3,173.4 L328.9,173.0 L330.5,172.6 L332.0,172.3 L333.6,171.9 L335.2,171.5 L336.7,171.1 L338.3,170.8 L339.9,170.4 L341.5,170.0 L343.0,169.7 L344.6,169.3 L346.2,169.0 L347.7,168.7 L349.3,168.3 L350.9,168.0 L352.4,167.7 L354.0,167.4 L355.6,167.1 L357.1,166.8 L358.7,166.5 L360.3,166.2 L361.8,165.9 L363.4,165.6 L365.0,165.4 L366.5,165.1 L368.1,164.8 L369.7,164.6 L371.2,164.3 L372.8,164.1 L374.4,163.8 L375.9,163.6 L377.5,163.3 L379.1,163.1 L380.7,162.9 L382.2,162.6 L383.8,162.4 L385.4,162.2 L386.9,162.0 L388.5,161.8 L390.1,161.6 L391.6,161.4 L393.2,161.3 L394.8,161.1 L396.3,161.0 L397.9,160.9 L399.5,160.7 L401.0,160.6 L402.6,160.5 L404.2,160.4 L405.7,160.3 L407.3,160.2 L408.9,160.1 L410.4,160.1 L412.0,160.0 L413.6,159.9 L415.1,159.8 L416.7,159.7 L418.3,159.7 L419.9,159.6 L421.4,159.5 L423.0,159.5 L424.6,159.4 L426.1,159.4 L427.7,159.3 L429.3,159.2 L430.8,159.2 L432.4,159.2 L434.0,159.1 L435.5,159.1 L437.1,159.1 L438.7,159.0 L440.2,159.0 L441.8,159.0 L443.4,158.9 L444.9,158.9 L446.5,158.9 L448.1,158.9 L449.6,158.8 L451.2,158.8 L452.8,158.8 L454.3,158.8 L455.9,158.8 L457.5,158.7 L459.1,158.7 L460.6,158.7 L462.2,158.7 L463.8,158.7 L465.3,158.6 L466.9,158.6 L468.5,158.6 L470.0,158.6 L471.6,158.6 L473.2,158.6 L474.7,158.5 L476.3,158.5 L477.9,158.5 L479.4,158.5 L481.0,158.5 L482.6,158.5 L484.1,158.5 L485.7,158.5 L487.3,158.4 L488.8,158.4 L490.4,158.4 L492.0,158.4 L493.5,158.4 L495.1,158.4 L496.7,158.4 L498.3,158.4 L499.8,158.4 L501.4,158.4 L503.0,158.4 L504.5,158.4 L506.1,158.4 L506.1,172.0 L504.5,172.0 L503.0,172.0 L501.4,172.0 L499.8,172.0 L498.3,172.0 L496.7,172.0 L495.1,172.1 L493.5,172.1 L492.0,172.1 L490.4,172.1 L488.8,172.1 L487.3,172.1 L485.7,172.1 L484.1,172.1 L482.6,172.1 L481.0,172.1 L479.4,172.1 L477.9,172.1 L476.3,172.1 L474.7,172.1 L473.2,172.1 L471.6,172.1 L470.0,172.1 L468.5,172.1 L466.9,172.1 L465.3,172.1 L463.8,172.1 L462.2,172.1 L460.6,172.1 L459.1,172.1 L457.5,172.1 L455.9,172.1 L454.3,172.1 L452.8,172.1 L451.2,172.1 L449.6,172.1 L448.1,172.1 L446.5,172.1 L444.9,172.2 L443.4,172.2 L441.8,172.2 L440.2,172.2 L438.7,172.2 L437.1,172.2 L435.5,172.2 L434.0,172.2 L432.4,172.2 L430.8,172.2 L429.3,172.2 L427.7,172.2 L426.1,172.2 L424.6,172.2 L423.0,172.2 L421.4,172.2 L419.9,172.3 L418.3,172.3 L416.7,172.3 L415.1,172.3 L413.6,172.3 L412.0,172.3 L410.4,172.3 L408.9,172.3 L407.3,172.3 L405.7,172.3 L404.2,172.3 L402.6,172.3 L401.0,172.4 L399.5,172.4 L397.9,172.4 L396.3,172.4 L394.8,172.4 L393.2,172.4 L391.6,172.4 L390.1,172.5 L388.5,172.5 L386.9,172.5 L385.4,172.6 L383.8,172.6 L382.2,172.6 L380.7,172.7 L379.1,172.7 L377.5,172.8 L375.9,172.8 L374.4,172.9 L372.8,172.9 L371.2,173.0 L369.7,173.0 L368.1,173.1 L366.5,173.1 L365.0,173.2 L363.4,173.3 L361.8,173.3 L360.3,173.4 L358.7,173.5 L357.1,173.5 L355.6,173.6 L354.0,173.7 L352.4,173.8 L350.9,173.8 L349.3,173.9 L347.7,174.0 L346.2,174.1 L344.6,174.1 L343.0,174.2 L341.5,174.3 L339.9,174.4 L338.3,174.5 L336.7,174.6 L335.2,174.6 L333.6,174.7 L332.0,174.8 L330.5,174.9 L328.9,175.0 L327.3,175.1 L325.8,175.2 L324.2,175.2 L322.6,175.3 L321.1,175.4 L319.5,175.5Z" fill="#fdf7f8" stroke="none"/>
<path d="M319.5,175.5 L321.1,175.1 L322.6,174.7 L324.2,174.3 L325.8,173.8 L327.3,173.4 L328.9,173.0 L330.5,172.6 L332.0,172.3 L333.6,171.9 L335.2,171.5 L336.7,171.1 L338.3,170.8 L339.9,170.4 L341.5,170.0 L343.0,169.7 L344.6,169.3 L346.2,169.0 L347.7,168.7 L349.3,168.3 L350.9,168.0 L352.4,167.7 L354.0,167.4 L355.6,167.1 L357.1,166.8 L358.7,166.5 L360.3,166.2 L361.8,165.9 L363.4,165.6 L365.0,165.4 L366.5,165.1 L368.1,164.8 L369.7,164.6 L371.2,164.3 L372.8,164.1 L374.4,163.8 L375.9,163.6 L377.5,163.3 L379.1,163.1 L380.7,162.9 L382.2,162.6 L383.8,162.4 L385.4,162.2 L386.9,162.0 L388.5,161.8 L390.1,161.6 L391.6,161.4 L393.2,161.3 L394.8,161.1 L396.3,161.0 L397.9,160.9 L399.5,160.7 L401.0,160.6 L402.6,160.5 L404.2,160.4 L405.7,160.3 L407.3,160.2 L408.9,160.1 L410.4,160.1 L412.0,160.0 L413.6,159.9 L415.1,159.8 L416.7,159.7 L418.3,159.7 L419.9,159.6 L421.4,159.5 L423.0,159.5 L424.6,159.4 L426.1,159.4 L427.7,159.3 L429.3,159.2 L430.8,159.2 L432.4,159.2 L434.0,159.1 L435.5,159.1 L437.1,159.1 L438.7,159.0 L440.2,159.0 L441.8,159.0 L443.4,158.9 L444.9,158.9 L446.5,158.9 L448.1,158.9 L449.6,158.8 L451.2,158.8 L452.8,158.8 L454.3,158.8 L455.9,158.8 L457.5,158.7 L459.1,158.7 L460.6,158.7 L462.2,158.7 L463.8,158.7 L465.3,158.6 L466.9,158.6 L468.5,158.6 L470.0,158.6 L471.6,158.6 L473.2,158.6 L474.7,158.5 L476.3,158.5 L477.9,158.5 L479.4,158.5 L481.0,158.5 L482.6,158.5 L484.1,158.5 L485.7,158.5 L487.3,158.4 L488.8,158.4 L490.4,158.4 L492.0,158.4 L493.5,158.4 L495.1,158.4 L496.7,158.4 L498.3,158.4 L499.8,158.4 L501.4,158.4 L503.0,158.4 L504.5,158.4 L506.1,158.4" fill="none" stroke="#f7d9e0" stroke-width="0.8"/>
<path d="M319.5,175.5 L321.1,175.4 L322.6,175.3 L324.2,175.2 L325.8,175.2 L327.3,175.1 L328.9,175.0 L330.5,174.9 L332.0,174.8 L333.6,174.7 L335.2,174.6 L336.7,174.6 L338.3,174.5 L339.9,174.4 L341.5,174.3 L343.0,174.2 L344.6,174.1 L346.2,174.1 L347.7,174.0 L349.3,173.9 L350.9,173.8 L352.4,173.8 L354.0,173.7 L355.6,173.6 L357.1,173.5 L358.7,173.5 L360.3,173.4 L361.8,173.3 L363.4,173.3 L365.0,173.2 L366.5,173.1 L368.1,173.1 L369.7,173.0 L371.2,173.0 L372.8,172.9 L374.4,172.9 L375.9,172.8 L377.5,172.8 L379.1,172.7 L380.7,172.7 L382.2,172.6 L383.8,172.6 L385.4,172.6 L386.9,172.5 L388.5,172.5 L390.1,172.5 L391.6,172.4 L393.2,172.4 L394.8,172.4 L396.3,172.4 L397.9,172.4 L399.5,172.4 L401.0,172.4 L402.6,172.3 L404.2,172.3 L405.7,172.3 L407.3,172.3 L408.9,172.3 L410.4,172.3 L412.0,172.3 L413.6,172.3 L415.1,172.3 L416.7,172.3 L418.3,172.3 L419.9,172.3 L421.4,172.2 L423.0,172.2 L424.6,172.2 L426.1,172.2 L427.7,172.2 L429.3,172.2 L430.8,172.2 L432.4,172.2 L434.0,172.2 L435.5,172.2 L437.1,172.2 L438.7,172.2 L440.2,172.2 L441.8,172.2 L443.4,172.2 L444.9,172.2 L446.5,172.1 L448.1,172.1 L449.6,172.1 L451.2,172.1 L452.8,172.1 L454.3,172.1 L455.9,172.1 L457.5,172.1 L459.1,172.1 L460.6,172.1 L462.2,172.1 L463.8,172.1 L465.3,172.1 L466.9,172.1 L468.5,172.1 L470.0,172.1 L471.6,172.1 L473.2,172.1 L474.7,172.1 L476.3,172.1 L477.9,172.1 L479.4,172.1 L481.0,172.1 L482.6,172.1 L484.1,172.1 L485.7,172.1 L487.3,172.1 L488.8,172.1 L490.4,172.1 L492.0,172.1 L493.5,172.1 L495.1,172.1 L496.7,172.0 L498.3,172.0 L499.8,172.0 L501.4,172.0 L503.0,172.0 L504.5,172.0 L506.1,172.0" fill="none" stroke="#f7d9e0" stroke-width="0.8"/>
<line x1="506.09" y1="158.39" x2="506.09" y2="172.05" stroke="#f7d9e0" stroke-width="0.8"/>
<path d="M319.5,175.5 L321.1,175.4 L322.6,175.3 L324.2,175.2 L325.8,175.1 L327.3,175.0 L328.9,174.9 L330.5,174.8 L332.0,174.7 L333.6,174.5 L335.2,174.4 L336.7,174.3 L338.3,174.2 L339.9,174.1 L341.5,173.9 L343.0,173.8 L344.6,173.7 L346.2,173.5 L347.7,173.4 L349.3,173.3 L350.9,173.1 L352.4,173.0 L354.0,172.8 L355.6,172.7 L357.1,172.5 L358.7,172.4 L360.3,172.3 L361.8,172.1 L363.4,172.0 L365.0,171.8 L366.5,171.6 L368.1,171.5 L369.7,171.3 L371.2,171.2 L372.8,171.0 L374.4,170.8 L375.9,170.7 L377.5,170.5 L379.1,170.3 L380.7,170.1 L382.2,169.9 L383.8,169.8 L385.4,169.6 L386.9,169.4 L388.5,169.2 L390.1,168.9 L391.6,168.7 L393.2,168.5 L394.8,168.3 L396.3,168.0 L397.9,167.8 L399.5,167.5 L401.0,167.2 L402.6,166.9 L404.2,166.6 L405.7,166.3 L407.3,165.9 L408.9,165.6 L410.4,165.2 L412.0,164.8 L413.6,164.4 L415.1,164.0 L416.7,163.6 L418.3,163.2 L419.9,162.8 L421.4,162.3 L423.0,161.9 L424.6,161.5 L426.1,161.0 L427.7,160.6 L429.3,160.1 L430.8,159.7 L432.4,159.2 L434.0,158.8 L435.5,158.3 L437.1,157.9 L438.7,157.4 L440.2,157.0 L441.8,156.5 L443.4,156.1 L444.9,155.6 L446.5,155.2 L448.1,154.7 L449.6,154.3 L451.2,153.8 L452.8,153.3 L454.3,152.9 L455.9,152.4 L457.5,151.9 L459.1,151.4 L460.6,151.0 L462.2,150.5 L463.8,150.0 L465.3,149.5 L466.9,149.1 L468.5,148.6 L470.0,148.1 L471.6,147.7 L473.2,147.2 L474.7,146.7 L476.3,146.3 L477.9,145.8 L479.4,145.4 L481.0,144.9 L482.6,144.4 L484.1,144.0 L485.7,143.5 L487.3,143.1 L488.8,142.7 L490.4,142.2 L492.0,141.8 L493.5,141.3 L495.1,140.9 L496.7,140.4 L498.3,140.0 L499.8,139.6 L501.4,139.1 L503.0,138.7 L504.5,138.3 L506.1,137.8 L506.1,175.5 L504.5,175.5 L503.0,175.5 L501.4,175.5 L499.8,175.5 L498.3,175.5 L496.7,175.5 L495.1,175.5 L493.5,175.5 L492.0,175.5 L490.4,175.5 L488.8,175.5 L487.3,175.5 L485.7,175.5 L484.1,175.5 L482.6,175.5 L481.0,175.5 L479.4,175.5 L477.9,175.5 L476.3,175.5 L474.7,175.5 L473.2,175.5 L471.6,175.5 L470.0,175.5 L468.5,175.5 L466.9,175.5 L465.3,175.5 L463.8,175.5 L462.2,175.5 L460.6,175.5 L459.1,175.5 L457.5,175.5 L455.9,175.5 L454.3,175.5 L452.8,175.5 L451.2,175.5 L449.6,175.5 L448.1,175.5 L446.5,175.5 L444.9,175.5 L443.4,175.5 L441.8,175.5 L440.2,175.5 L438.7,175.5 L437.1,175.5 L435.5,175.5 L434.0,175.5 L432.4,175.5 L430.8,175.5 L429.3,175.5 L427.7,175.5 L426.1,175.5 L424.6,175.5 L423.0,175.5 L421.4,175.5 L419.9,175.5 L418.3,175.5 L416.7,175.5 L415.1,175.5 L413.6,175.5 L412.0,175.5 L410.4,175.5 L408.9,175.5 L407.3,175.5 L405.7,175.5 L404.2,175.5 L402.6,175.5 L401.0,175.5 L399.5,175.5 L397.9,175.5 L396.3,175.5 L394.8,175.5 L393.2,175.5 L391.6,175.5 L390.1,175.5 L388.5,175.5 L386.9,175.5 L385.4,175.5 L383.8,175.5 L382.2,175.5 L380.7,175.5 L379.1,175.5 L377.5,175.5 L375.9,175.5 L374.4,175.5 L372.8,175.5 L371.2,175.5 L369.7,175.5 L368.1,175.5 L366.5,175.5 L365.0,175.5 L363.4,175.5 L361.8,175.5 L360.3,175.5 L358.7,175.5 L357.1,175.5 L355.6,175.5 L354.0,175.5 L352.4,175.5 L350.9,175.5 L349.3,175.5 L347.7,175.5 L346.2,175.5 L344.6,175.5 L343.0,175.5 L341.5,175.5 L339.9,175.5 L338.3,175.5 L336.7,175.5 L335.2,175.5 L333.6,175.5 L332.0,175.5 L330.5,175.5 L328.9,175.5 L327.3,175.5 L325.8,175.5 L324.2,175.5 L322.6,175.5 L321.1,175.5 L319.5,175.5Z" fill="#ecf7fb" stroke="none"/>
<path d="M319.5,175.5 L321.1,175.4 L322.6,175.3 L324.2,175.2 L325.8,175.1 L327.3,175.0 L328.9,174.9 L330.5,174.8 L332.0,174.7 L333.6,174.5 L335.2,174.4 L336.7,174.3 L338.3,174.2 L339.9,174.1 L341.5,173.9 L343.0,173.8 L344.6,173.7 L346.2,173.5 L347.7,173.4 L349.3,173.3 L350.9,173.1 L352.4,173.0 L354.0,172.8 L355.6,172.7 L357.1,172.5 L358.7,172.4 L360.3,172.3 L361.8,172.1 L363.4,172.0 L365.0,171.8 L366.5,171.6 L368.1,171.5 L369.7,171.3 L371.2,171.2 L372.8,171.0 L374.4,170.8 L375.9,170.7 L377.5,170.5 L379.1,170.3 L380.7,170.1 L382.2,169.9 L383.8,169.8 L385.4,169.6 L386.9,169.4 L388.5,169.2 L390.1,168.9 L391.6,168.7 L393.2,168.5 L394.8,168.3 L396.3,168.0 L397.9,167.8 L399.5,167.5 L401.0,167.2 L402.6,166.9 L404.2,166.6 L405.7,166.3 L407.3,165.9 L408.9,165.6 L410.4,165.2 L412.0,164.8 L413.6,164.4 L415.1,164.0 L416.7,163.6 L418.3,163.2 L419.9,162.8 L421.4,162.3 L423.0,161.9 L424.6,161.5 L426.1,161.0 L427.7,160.6 L429.3,160.1 L430.8,159.7 L432.4,159.2 L434.0,158.8 L435.5,158.3 L437.1,157.9 L438.7,157.4 L440.2,157.0 L441.8,156.5 L443.4,156.1 L444.9,155.6 L446.5,155.2 L448.1,154.7 L449.6,154.3 L451.2,153.8 L452.8,153.3 L454.3,152.9 L455.9,152.4 L457.5,151.9 L459.1,151.4 L460.6,151.0 L462.2,150.5 L463.8,150.0 L465.3,149.5 L466.9,149.1 L468.5,148.6 L470.0,148.1 L471.6,147.7 L473.2,147.2 L474.7,146.7 L476.3,146.3 L477.9,145.8 L479.4,145.4 L481.0,144.9 L482.6,144.4 L484.1,144.0 L485.7,143.5 L487.3,143.1 L488.8,142.7 L490.4,142.2 L492.0,141.8 L493.5,141.3 L495.1,140.9 L496.7,140.4 L498.3,140.0 L499.8,139.6 L501.4,139.1 L503.0,138.7 L504.5,138.3 L506.1,137.8" fill="none" stroke="#9dd5e4" stroke-width="0.8"/>
<path d="M319.5,175.5 L321.1,175.5 L322.6,175.5 L324.2,175.5 L325.8,175.5 L327.3,175.5 L328.9,175.5 L330.5,175.5 L332.0,175.5 L333.6,175.5 L335.2,175.5 L336.7,175.5 L338.3,175.5 L339.9,175.5 L341.5,175.5 L343.0,175.5 L344.6,175.5 L346.2,175.5 L347.7,175.5 L349.3,175.5 L350.9,175.5 L352.4,175.5 L354.0,175.5 L355.6,175.5 L357.1,175.5 L358.7,175.5 L360.3,175.5 L361.8,175.5 L363.4,175.5 L365.0,175.5 L366.5,175.5 L368.1,175.5 L369.7,175.5 L371.2,175.5 L372.8,175.5 L374.4,175.5 L375.9,175.5 L377.5,175.5 L379.1,175.5 L380.7,175.5 L382.2,175.5 L383.8,175.5 L385.4,175.5 L386.9,175.5 L388.5,175.5 L390.1,175.5 L391.6,175.5 L393.2,175.5 L394.8,175.5 L396.3,175.5 L397.9,175.5 L399.5,175.5 L401.0,175.5 L402.6,175.5 L404.2,175.5 L405.7,175.5 L407.3,175.5 L408.9,175.5 L410.4,175.5 L412.0,175.5 L413.6,175.5 L415.1,175.5 L416.7,175.5 L418.3,175.5 L419.9,175.5 L421.4,175.5 L423.0,175.5 L424.6,175.5 L426.1,175.5 L427.7,175.5 L429.3,175.5 L430.8,175.5 L432.4,175.5 L434.0,175.5 L435.5,175.5 L437.1,175.5 L438.7,175.5 L440.2,175.5 L441.8,175.5 L443.4,175.5 L444.9,175.5 L446.5,175.5 L448.1,175.5 L449.6,175.5 L451.2,175.5 L452.8,175.5 L454.3,175.5 L455.9,175.5 L457.5,175.5 L459.1,175.5 L460.6,175.5 L462.2,175.5 L463.8,175.5 L465.3,175.5 L466.9,175.5 L468.5,175.5 L470.0,175.5 L471.6,175.5 L473.2,175.5 L474.7,175.5 L476.3,175.5 L477.9,175.5 L479.4,175.5 L481.0,175.5 L482.6,175.5 L484.1,175.5 L485.7,175.5 L487.3,175.5 L488.8,175.5 L490.4,175.5 L492.0,175.5 L493.5,175.5 L495.1,175.5 L496.7,175.5 L498.3,175.5 L499.8,175.5 L501.4,175.5 L503.0,175.5 L504.5,175.5 L506.1,175.5" fill="none" stroke="#9dd5e4" stroke-width="0.8"/>
<line x1="506.09" y1="137.82" x2="506.09" y2="175.50" stroke="#9dd5e4" stroke-width="0.8"/>
<line x1="319.50" y1="18.50" x2="319.50" y2="175.50" stroke="#555555" stroke-width="1" stroke-dasharray="1,3"/>
<line x1="359.50" y1="18.50" x2="359.50" y2="175.50" stroke="#555555" stroke-width="1" stroke-dasharray="1,3"/>
<line x1="398.50" y1="18.50" x2="398.50" y2="175.50" stroke="#555555" stroke-width="1" stroke-dasharray="1,3"/>
<line x1="438.50" y1="18.50" x2="438.50" y2="175.50" stroke="#555555" stroke-width="1" stroke-dasharray="1,3"/>
<line x1="478.50" y1="18.50" x2="478.50" y2="175.50" stroke="#555555" stroke-width="1" stroke-dasharray="1,3"/>
<line x1="319.50" y1="135.50" x2="518.50" y2="135.50" stroke="#555555" stroke-width="1" stroke-dasharray="1,3"/>
<line x1="319.50" y1="96.50" x2="518.50" y2="96.50" stroke="#555555" stroke-width="1" stroke-dasharray="1,3"/>
<line x1="319.50" y1="57.50" x2="518.50" y2="57.50" stroke="#555555" stroke-width="1" stroke-dasharray="1,3"/>
<path d="M319.5,173.7 L320.7,173.1 L321.8,172.3 L323.0,171.4 L324.2,170.4 L325.4,169.2 L326.5,167.9 L327.7,166.5 L328.9,164.8 L330.1,163.0 L331.2,161.0 L332.4,158.9 L333.6,156.6 L334.8,154.1 L335.9,151.6 L337.1,148.9 L338.3,146.1 L339.4,143.3 L340.6,140.4 L341.8,137.4 L343.0,134.4 L344.1,131.3 L345.3,128.2 L346.5,125.1 L347.7,121.9 L348.8,118.8 L350.0,115.7 L351.2,112.5 L352.4,109.5 L353.5,106.5 L354.7,103.5 L355.9,100.6 L357.1,97.8 L358.2,95.1 L359.4,92.5 L360.6,90.0 L361.7,87.6 L362.9,85.3 L364.1,83.1 L365.3,81.0 L366.4,79.0 L367.6,77.1 L368.8,75.3 L370.0,73.5 L371.1,71.9 L372.3,70.3 L373.5,68.7 L374.7,67.3 L375.8,65.9 L377.0,64.6 L378.2,63.4 L379.3,62.2 L380.5,61.1 L381.7,60.0 L382.9,59.0 L384.0,58.1 L385.2,57.2 L386.4,56.4 L387.6,55.7 L388.7,55.0 L389.9,54.4 L391.1,53.8 L392.3,53.3 L393.4,52.8 L394.6,52.4 L395.8,52.0 L397.0,51.6 L398.1,51.3 L399.3,51.0 L400.5,50.7 L401.6,50.4 L402.8,50.2 L404.0,50.0 L405.2,49.8 L406.3,49.6 L407.5,49.4 L408.7,49.2 L409.9,49.1 L411.0,48.9 L412.2,48.8 L413.4,48.7 L414.6,48.5 L415.7,48.4 L416.9,48.3 L418.1,48.2 L419.2,48.1 L420.4,48.0 L421.6,48.0 L422.8,47.9 L423.9,47.8 L425.1,47.8 L426.3,47.7 L427.5,47.6 L428.6,47.6 L429.8,47.5 L431.0,47.5 L432.2,47.5 L433.3,47.4 L434.5,47.4 L435.7,47.3 L436.9,47.3 L438.0,47.3 L439.2,47.2 L440.4,47.2 L441.5,47.2 L442.7,47.1 L443.9,47.1 L445.1,47.1 L446.2,47.0 L447.4,47.0 L448.6,47.0 L449.8,47.0 L450.9,46.9 L452.1,46.9 L453.3,46.9 L454.5,46.9 L455.6,46.8 L456.8,46.8 L458.0,46.8 L459.1,46.8 L460.3,46.8 L461.5,46.7 L462.7,46.7 L463.8,46.7 L465.0,46.7 L466.2,46.6 L467.4,46.6 L468.5,46.6 L469.7,46.5 L470.9,46.5 L472.1,46.5 L473.2,46.4 L474.4,46.4 L475.6,46.4 L476.8,46.3 L477.9,46.3 L479.1,46.2 L480.3,46.2 L481.4,46.1 L482.6,46.0 L483.8,46.0 L485.0,45.9 L486.1,45.8 L487.3,45.8 L488.5,45.7 L489.7,45.6 L490.8,45.5 L492.0,45.4 L493.2,45.3 L494.4,45.2 L495.5,45.1 L496.7,45.0 L497.9,44.9 L499.0,44.8 L500.2,44.7 L501.4,44.6 L502.6,44.4 L503.7,44.3 L504.9,44.2 L506.1,44.1" fill="none" stroke="#000" stroke-width="2.10" stroke-linejoin="round"/>
<path d="M319.5,175.5 L320.7,175.5 L321.8,175.5 L323.0,175.5 L324.2,175.5 L325.4,175.4 L326.5,175.4 L327.7,175.4 L328.9,175.4 L330.1,175.4 L331.2,175.4 L332.4,175.3 L333.6,175.3 L334.8,175.3 L335.9,175.3 L337.1,175.3 L338.3,175.2 L339.4,175.2 L340.6,175.2 L341.8,175.2 L343.0,175.1 L344.1,175.1 L345.3,175.1 L346.5,175.1 L347.7,175.0 L348.8,175.0 L350.0,175.0 L351.2,174.9 L352.4,174.9 L353.5,174.9 L354.7,174.9 L355.9,174.8 L357.1,174.8 L358.2,174.8 L359.4,174.7 L360.6,174.7 L361.7,174.7 L362.9,174.6 L364.1,174.6 L365.3,174.5 L366.4,174.5 L367.6,174.5 L368.8,174.4 L370.0,174.4 L371.1,174.4 L372.3,174.3 L373.5,174.3 L374.7,174.3 L375.8,174.2 L377.0,174.2 L378.2,174.1 L379.3,174.1 L380.5,174.0 L381.7,174.0 L382.9,173.9 L384.0,173.9 L385.2,173.8 L386.4,173.8 L387.6,173.7 L388.7,173.7 L389.9,173.6 L391.1,173.6 L392.3,173.5 L393.4,173.4 L394.6,173.4 L395.8,173.3 L397.0,173.2 L398.1,173.2 L399.3,173.1 L400.5,173.0 L401.6,172.9 L402.8,172.9 L404.0,172.8 L405.2,172.7 L406.3,172.6 L407.5,172.5 L408.7,172.4 L409.9,172.3 L411.0,172.2 L412.2,172.1 L413.4,172.0 L414.6,171.9 L415.7,171.8 L416.9,171.7 L418.1,171.6 L419.2,171.5 L420.4,171.4 L421.6,171.3 L422.8,171.2 L423.9,171.0 L425.1,170.9 L426.3,170.8 L427.5,170.7 L428.6,170.6 L429.8,170.4 L431.0,170.3 L432.2,170.2 L433.3,170.1 L434.5,170.0 L435.7,169.8 L436.9,169.7 L438.0,169.6 L439.2,169.5 L440.4,169.3 L441.5,169.2 L442.7,169.1 L443.9,168.9 L445.1,168.8 L446.2,168.6 L447.4,168.5 L448.6,168.3 L449.8,168.2 L450.9,168.0 L452.1,167.9 L453.3,167.7 L454.5,167.6 L455.6,167.4 L456.8,167.3 L458.0,167.1 L459.1,167.0 L460.3,166.8 L461.5,166.7 L462.7,166.5 L463.8,166.4 L465.0,166.2 L466.2,166.1 L467.4,165.9 L468.5,165.8 L469.7,165.7 L470.9,165.5 L472.1,165.4 L473.2,165.3 L474.4,165.2 L475.6,165.1 L476.8,165.0 L477.9,164.9 L479.1,164.8 L480.3,164.7 L481.4,164.6 L482.6,164.5 L483.8,164.4 L485.0,164.4 L486.1,164.3 L487.3,164.2 L488.5,164.1 L489.7,164.1 L490.8,164.0 L492.0,163.9 L493.2,163.8 L494.4,163.8 L495.5,163.7 L496.7,163.7 L497.9,163.6 L499.0,163.5 L500.2,163.5 L501.4,163.4 L502.6,163.4 L503.7,163.3 L504.9,163.3 L506.1,163.3" fill="none" stroke="#1c2f78" stroke-width="2.10" stroke-linejoin="round"/>
<path d="M319.5,175.5 L320.7,175.4 L321.8,175.3 L323.0,175.2 L324.2,175.1 L325.4,175.0 L326.5,174.9 L327.7,174.8 L328.9,174.7 L330.1,174.6 L331.2,174.4 L332.4,174.3 L333.6,174.2 L334.8,174.1 L335.9,174.0 L337.1,173.9 L338.3,173.8 L339.4,173.7 L340.6,173.6 L341.8,173.5 L343.0,173.4 L344.1,173.3 L345.3,173.2 L346.5,173.1 L347.7,173.0 L348.8,172.9 L350.0,172.8 L351.2,172.7 L352.4,172.5 L353.5,172.4 L354.7,172.3 L355.9,172.2 L357.1,172.1 L358.2,172.0 L359.4,171.9 L360.6,171.8 L361.7,171.7 L362.9,171.6 L364.1,171.5 L365.3,171.4 L366.4,171.3 L367.6,171.1 L368.8,171.0 L370.0,170.9 L371.1,170.8 L372.3,170.7 L373.5,170.6 L374.7,170.4 L375.8,170.3 L377.0,170.2 L378.2,170.1 L379.3,169.9 L380.5,169.8 L381.7,169.7 L382.9,169.6 L384.0,169.4 L385.2,169.3 L386.4,169.2 L387.6,169.1 L388.7,169.0 L389.9,168.9 L391.1,168.8 L392.3,168.7 L393.4,168.6 L394.6,168.5 L395.8,168.5 L397.0,168.4 L398.1,168.4 L399.3,168.3 L400.5,168.3 L401.6,168.2 L402.8,168.2 L404.0,168.2 L405.2,168.2 L406.3,168.1 L407.5,168.1 L408.7,168.1 L409.9,168.1 L411.0,168.1 L412.2,168.0 L413.4,168.0 L414.6,168.0 L415.7,168.0 L416.9,168.0 L418.1,167.9 L419.2,167.9 L420.4,167.9 L421.6,167.9 L422.8,167.9 L423.9,167.9 L425.1,167.9 L426.3,167.9 L427.5,167.9 L428.6,167.8 L429.8,167.8 L431.0,167.8 L432.2,167.8 L433.3,167.8 L434.5,167.8 L435.7,167.8 L436.9,167.8 L438.0,167.8 L439.2,167.8 L440.4,167.8 L441.5,167.8 L442.7,167.8 L443.9,167.8 L445.1,167.8 L446.2,167.8 L447.4,167.8 L448.6,167.8 L449.8,167.8 L450.9,167.8 L452.1,167.8 L453.3,167.8 L454.5,167.8 L455.6,167.8 L456.8,167.8 L458.0,167.8 L459.1,167.8 L460.3,167.8 L461.5,167.8 L462.7,167.8 L463.8,167.8 L465.0,167.8 L466.2,167.8 L467.4,167.8 L468.5,167.8 L469.7,167.8 L470.9,167.8 L472.1,167.8 L473.2,167.8 L474.4,167.8 L475.6,167.8 L476.8,167.8 L477.9,167.8 L479.1,167.8 L480.3,167.8 L481.4,167.8 L482.6,167.8 L483.8,167.8 L485.0,167.8 L486.1,167.8 L487.3,167.8 L488.5,167.8 L489.7,167.8 L490.8,167.8 L492.0,167.8 L493.2,167.8 L494.4,167.8 L495.5,167.8 L496.7,167.8 L497.9,167.8 L499.0,167.8 L500.2,167.8 L501.4,167.8 L502.6,167.8 L503.7,167.8 L504.9,167.8 L506.1,167.8" fill="none" stroke="#c3112f" stroke-width="2.10" stroke-linejoin="round"/>
<rect x="319.50" y="18.50" width="199.00" height="157.00" fill="none" stroke="#5c5c5c" stroke-width="1"/>
<line x1="319.50" y1="175.50" x2="319.50" y2="177.50" stroke="#5c5c5c" stroke-width="1"/>
<line x1="359.50" y1="175.50" x2="359.50" y2="177.50" stroke="#5c5c5c" stroke-width="1"/>
<line x1="398.50" y1="175.50" x2="398.50" y2="177.50" stroke="#5c5c5c" stroke-width="1"/>
<line x1="438.50" y1="175.50" x2="438.50" y2="177.50" stroke="#5c5c5c" stroke-width="1"/>
<line x1="478.50" y1="175.50" x2="478.50" y2="177.50" stroke="#5c5c5c" stroke-width="1"/>
<line x1="317.00" y1="175.50" x2="319.00" y2="175.50" stroke="#5c5c5c" stroke-width="1"/>
<line x1="317.00" y1="135.50" x2="319.00" y2="135.50" stroke="#5c5c5c" stroke-width="1"/>
<line x1="317.00" y1="96.50" x2="319.00" y2="96.50" stroke="#5c5c5c" stroke-width="1"/>
<line x1="317.00" y1="57.50" x2="319.00" y2="57.50" stroke="#5c5c5c" stroke-width="1"/>
<line x1="317.00" y1="18.50" x2="319.00" y2="18.50" stroke="#5c5c5c" stroke-width="1"/>
<line x1="359.50" y1="16.50" x2="359.50" y2="18.50" stroke="#5c5c5c" stroke-width="1"/>
<line x1="398.50" y1="16.50" x2="398.50" y2="18.50" stroke="#5c5c5c" stroke-width="1"/>
<line x1="438.50" y1="16.50" x2="438.50" y2="18.50" stroke="#5c5c5c" stroke-width="1"/>
<line x1="478.50" y1="16.50" x2="478.50" y2="18.50" stroke="#5c5c5c" stroke-width="1"/>
<line x1="517.50" y1="135.50" x2="520.50" y2="135.50" stroke="#5c5c5c" stroke-width="1"/>
<line x1="517.50" y1="96.50" x2="520.50" y2="96.50" stroke="#5c5c5c" stroke-width="1"/>
<line x1="517.50" y1="57.50" x2="520.50" y2="57.50" stroke="#5c5c5c" stroke-width="1"/>
<text x="319.50" y="192.90" text-anchor="middle" class="t">0</text>
<text x="359.20" y="192.90" text-anchor="middle" class="t">10</text>
<text x="398.90" y="192.90" text-anchor="middle" class="t">20</text>
<text x="438.60" y="192.90" text-anchor="middle" class="t">30</text>
<text x="478.30" y="192.90" text-anchor="middle" class="t">40</text>
<text x="315.00" y="180.00" text-anchor="end" class="t">0</text>
<text x="315.00" y="140.75" text-anchor="end" class="t">0.25</text>
<text x="315.00" y="101.50" text-anchor="end" class="t">0.5</text>
<text x="315.00" y="62.25" text-anchor="end" class="t">0.75</text>
<text x="315.00" y="23.00" text-anchor="end" class="t">1</text>
<text x="417.00" y="14.50" text-anchor="middle" class="t">(RAD, CABS) = (1, 0)</text>
<text x="279.00" y="15.30" class="L">B</text>
<path d="M47.2,390.7 L48.8,382.4 L50.4,374.2 L51.9,366.2 L53.5,358.2 L55.1,350.5 L56.6,342.9 L58.2,335.6 L59.8,328.5 L61.3,321.6 L62.9,315.1 L64.5,308.8 L66.0,302.8 L67.6,297.1 L69.1,291.8 L70.7,286.7 L72.3,282.1 L73.8,277.8 L75.4,273.8 L77.0,270.2 L78.5,266.8 L80.1,263.7 L81.7,260.7 L83.2,258.0 L84.8,255.4 L86.4,252.9 L87.9,250.5 L89.5,248.2 L91.0,246.1 L92.6,244.1 L94.2,242.3 L95.7,240.6 L97.3,239.1 L98.9,237.8 L100.4,236.7 L102.0,235.8 L103.6,235.0 L105.1,234.5 L106.7,234.1 L108.2,233.9 L109.8,233.7 L111.4,233.6 L112.9,233.5 L114.5,233.5 L116.1,233.5 L117.6,233.5 L119.2,233.5 L120.8,233.5 L122.3,233.5 L123.9,233.5 L125.5,233.5 L127.0,233.5 L128.6,233.5 L130.1,233.5 L131.7,233.5 L133.3,233.5 L134.8,233.5 L136.4,233.5 L138.0,233.5 L139.5,233.5 L141.1,233.5 L142.7,233.5 L144.2,233.5 L145.8,233.5 L147.3,233.5 L148.9,233.5 L150.5,233.5 L152.0,233.5 L153.6,233.5 L155.2,233.5 L156.7,233.5 L158.3,233.5 L159.9,233.5 L161.4,233.5 L163.0,233.5 L164.6,233.5 L166.1,233.5 L167.7,233.5 L169.2,233.5 L170.8,233.5 L172.4,233.5 L173.9,233.5 L175.5,233.5 L177.1,233.5 L178.6,233.5 L180.2,233.5 L181.8,233.5 L183.3,233.5 L184.9,233.5 L186.4,233.5 L188.0,233.5 L189.6,233.5 L191.1,233.5 L192.7,233.5 L194.3,233.5 L195.8,233.5 L197.4,233.5 L199.0,233.5 L200.5,233.5 L202.1,233.5 L203.7,233.5 L205.2,233.5 L206.8,233.5 L208.3,233.5 L209.9,233.5 L211.5,233.5 L213.0,233.5 L214.6,233.5 L216.2,233.5 L217.7,233.5 L219.3,233.5 L220.9,233.5 L222.4,233.5 L224.0,233.5 L225.5,233.5 L227.1,233.5 L228.7,233.5 L230.2,233.5 L231.8,233.5 L233.4,233.5 L233.4,304.2 L231.8,304.2 L230.2,304.2 L228.7,304.2 L227.1,304.2 L225.5,304.2 L224.0,304.2 L222.4,304.2 L220.9,304.3 L219.3,304.3 L217.7,304.3 L216.2,304.3 L214.6,304.4 L213.0,304.4 L211.5,304.4 L209.9,304.5 L208.3,304.5 L206.8,304.6 L205.2,304.6 L203.7,304.7 L202.1,304.8 L200.5,304.8 L199.0,304.9 L197.4,304.9 L195.8,305.0 L194.3,305.1 L192.7,305.2 L191.1,305.3 L189.6,305.3 L188.0,305.4 L186.4,305.5 L184.9,305.6 L183.3,305.7 L181.8,305.8 L180.2,305.9 L178.6,306.0 L177.1,306.2 L175.5,306.3 L173.9,306.4 L172.4,306.5 L170.8,306.7 L169.2,306.8 L167.7,306.9 L166.1,307.1 L164.6,307.2 L163.0,307.4 L161.4,307.5 L159.9,307.7 L158.3,307.8 L156.7,308.0 L155.2,308.2 L153.6,308.3 L152.0,308.5 L150.5,308.7 L148.9,308.9 L147.3,309.1 L145.8,309.3 L144.2,309.5 L142.7,309.7 L141.1,309.9 L139.5,310.1 L138.0,310.3 L136.4,310.5 L134.8,310.8 L133.3,311.0 L131.7,311.3 L130.1,311.6 L128.6,312.0 L127.0,312.4 L125.5,313.0 L123.9,313.7 L122.3,314.5 L120.8,315.6 L119.2,316.8 L117.6,318.2 L116.1,319.7 L114.5,321.5 L112.9,323.3 L111.4,325.3 L109.8,327.4 L108.2,329.6 L106.7,331.8 L105.1,334.1 L103.6,336.4 L102.0,338.8 L100.4,341.1 L98.9,343.4 L97.3,345.6 L95.7,347.8 L94.2,350.0 L92.6,352.0 L91.0,354.0 L89.5,355.8 L87.9,357.6 L86.4,359.2 L84.8,360.8 L83.2,362.4 L81.7,363.8 L80.1,365.3 L78.5,366.7 L77.0,368.1 L75.4,369.5 L73.8,370.8 L72.3,372.2 L70.7,373.5 L69.1,374.8 L67.6,376.0 L66.0,377.3 L64.5,378.5 L62.9,379.7 L61.3,380.9 L59.8,382.1 L58.2,383.2 L56.6,384.3 L55.1,385.4 L53.5,386.4 L51.9,387.5 L50.4,388.5 L48.8,389.5 L47.2,390.5Z" fill="#fbfafb" stroke="none"/>
<path d="M47.2,390.5 L48.8,390.0 L50.4,389.6 L51.9,389.1 L53.5,388.7 L55.1,388.2 L56.6,387.8 L58.2,387.4 L59.8,386.9 L61.3,386.5 L62.9,386.1 L64.5,385.7 L66.0,385.2 L67.6,384.8 L69.1,384.4 L70.7,384.0 L72.3,383.7 L73.8,383.3 L75.4,382.9 L77.0,382.5 L78.5,382.1 L80.1,381.8 L81.7,381.4 L83.2,381.1 L84.8,380.7 L86.4,380.4 L87.9,380.0 L89.5,379.7 L91.0,379.4 L92.6,379.0 L94.2,378.7 L95.7,378.4 L97.3,378.1 L98.9,377.8 L100.4,377.5 L102.0,377.2 L103.6,376.9 L105.1,376.6 L106.7,376.3 L108.2,376.0 L109.8,375.7 L111.4,375.4 L112.9,375.1 L114.5,374.9 L116.1,374.6 L117.6,374.4 L119.2,374.2 L120.8,373.9 L122.3,373.7 L123.9,373.6 L125.5,373.4 L127.0,373.2 L128.6,373.1 L130.1,372.9 L131.7,372.8 L133.3,372.6 L134.8,372.5 L136.4,372.4 L138.0,372.2 L139.5,372.1 L141.1,372.0 L142.7,371.9 L144.2,371.8 L145.8,371.7 L147.3,371.6 L148.9,371.5 L150.5,371.4 L152.0,371.3 L153.6,371.2 L155.2,371.2 L156.7,371.1 L158.3,371.0 L159.9,371.0 L161.4,371.0 L163.0,370.9 L164.6,370.9 L166.1,370.9 L167.7,370.9 L169.2,370.9 L170.8,370.9 L172.4,370.9 L173.9,370.9 L175.5,370.9 L177.1,370.9 L178.6,370.9 L180.2,370.9 L181.8,370.9 L183.3,370.9 L184.9,370.9 L186.4,370.9 L188.0,370.9 L189.6,370.9 L191.1,370.9 L192.7,370.9 L194.3,370.9 L195.8,370.9 L197.4,370.9 L199.0,370.9 L200.5,370.9 L202.1,370.9 L203.7,370.9 L205.2,370.9 L206.8,370.9 L208.3,370.9 L209.9,370.9 L211.5,370.9 L213.0,370.9 L214.6,370.9 L216.2,370.9 L217.7,370.9 L219.3,370.9 L220.9,370.9 L222.4,370.9 L224.0,370.9 L225.5,370.9 L227.1,370.9 L228.7,370.9 L230.2,370.9 L231.8,370.9 L233.4,370.9 L233.4,387.0 L231.8,387.0 L230.2,387.0 L228.7,387.0 L227.1,387.0 L225.5,387.0 L224.0,387.0 L222.4,387.1 L220.9,387.1 L219.3,387.1 L217.7,387.1 L216.2,387.1 L214.6,387.1 L213.0,387.1 L211.5,387.1 L209.9,387.1 L208.3,387.1 L206.8,387.1 L205.2,387.1 L203.7,387.1 L202.1,387.1 L200.5,387.1 L199.0,387.1 L197.4,387.1 L195.8,387.1 L194.3,387.1 L192.7,387.1 L191.1,387.1 L189.6,387.1 L188.0,387.1 L186.4,387.1 L184.9,387.1 L183.3,387.1 L181.8,387.1 L180.2,387.1 L178.6,387.1 L177.1,387.1 L175.5,387.1 L173.9,387.1 L172.4,387.2 L170.8,387.2 L169.2,387.2 L167.7,387.2 L166.1,387.2 L164.6,387.2 L163.0,387.2 L161.4,387.2 L159.9,387.2 L158.3,387.2 L156.7,387.2 L155.2,387.2 L153.6,387.2 L152.0,387.2 L150.5,387.2 L148.9,387.2 L147.3,387.3 L145.8,387.3 L144.2,387.3 L142.7,387.3 L141.1,387.3 L139.5,387.3 L138.0,387.3 L136.4,387.3 L134.8,387.3 L133.3,387.3 L131.7,387.3 L130.1,387.3 L128.6,387.4 L127.0,387.4 L125.5,387.4 L123.9,387.4 L122.3,387.4 L120.8,387.4 L119.2,387.4 L117.6,387.5 L116.1,387.5 L114.5,387.5 L112.9,387.6 L111.4,387.6 L109.8,387.6 L108.2,387.7 L106.7,387.7 L105.1,387.8 L103.6,387.8 L102.0,387.9 L100.4,387.9 L98.9,388.0 L97.3,388.0 L95.7,388.1 L94.2,388.1 L92.6,388.2 L91.0,388.3 L89.5,388.3 L87.9,388.4 L86.4,388.5 L84.8,388.5 L83.2,388.6 L81.7,388.7 L80.1,388.8 L78.5,388.8 L77.0,388.9 L75.4,389.0 L73.8,389.1 L72.3,389.1 L70.7,389.2 L69.1,389.3 L67.6,389.4 L66.0,389.5 L64.5,389.6 L62.9,389.6 L61.3,389.7 L59.8,389.8 L58.2,389.9 L56.6,390.0 L55.1,390.1 L53.5,390.2 L51.9,390.2 L50.4,390.3 L48.8,390.4 L47.2,390.5Z" fill="#fdf7f8" stroke="none"/>
<path d="M47.2,390.5 L48.8,390.0 L50.4,389.6 L51.9,389.1 L53.5,388.7 L55.1,388.2 L56.6,387.8 L58.2,387.4 L59.8,386.9 L61.3,386.5 L62.9,386.1 L64.5,385.7 L66.0,385.2 L67.6,384.8 L69.1,384.4 L70.7,384.0 L72.3,383.7 L73.8,383.3 L75.4,382.9 L77.0,382.5 L78.5,382.1 L80.1,381.8 L81.7,381.4 L83.2,381.1 L84.8,380.7 L86.4,380.4 L87.9,380.0 L89.5,379.7 L91.0,379.4 L92.6,379.0 L94.2,378.7 L95.7,378.4 L97.3,378.1 L98.9,377.8 L100.4,377.5 L102.0,377.2 L103.6,376.9 L105.1,376.6 L106.7,376.3 L108.2,376.0 L109.8,375.7 L111.4,375.4 L112.9,375.1 L114.5,374.9 L116.1,374.6 L117.6,374.4 L119.2,374.2 L120.8,373.9 L122.3,373.7 L123.9,373.6 L125.5,373.4 L127.0,373.2 L128.6,373.1 L130.1,372.9 L131.7,372.8 L133.3,372.6 L134.8,372.5 L136.4,372.4 L138.0,372.2 L139.5,372.1 L141.1,372.0 L142.7,371.9 L144.2,371.8 L145.8,371.7 L147.3,371.6 L148.9,371.5 L150.5,371.4 L152.0,371.3 L153.6,371.2 L155.2,371.2 L156.7,371.1 L158.3,371.0 L159.9,371.0 L161.4,371.0 L163.0,370.9 L164.6,370.9 L166.1,370.9 L167.7,370.9 L169.2,370.9 L170.8,370.9 L172.4,370.9 L173.9,370.9 L175.5,370.9 L177.1,370.9 L178.6,370.9 L180.2,370.9 L181.8,370.9 L183.3,370.9 L184.9,370.9 L186.4,370.9 L188.0,370.9 L189.6,370.9 L191.1,370.9 L192.7,370.9 L194.3,370.9 L195.8,370.9 L197.4,370.9 L199.0,370.9 L200.5,370.9 L202.1,370.9 L203.7,370.9 L205.2,370.9 L206.8,370.9 L208.3,370.9 L209.9,370.9 L211.5,370.9 L213.0,370.9 L214.6,370.9 L216.2,370.9 L217.7,370.9 L219.3,370.9 L220.9,370.9 L222.4,370.9 L224.0,370.9 L225.5,370.9 L227.1,370.9 L228.7,370.9 L230.2,370.9 L231.8,370.9 L233.4,370.9" fill="none" stroke="#f7d9e0" stroke-width="0.8"/>
<path d="M47.2,390.5 L48.8,390.4 L50.4,390.3 L51.9,390.2 L53.5,390.2 L55.1,390.1 L56.6,390.0 L58.2,389.9 L59.8,389.8 L61.3,389.7 L62.9,389.6 L64.5,389.6 L66.0,389.5 L67.6,389.4 L69.1,389.3 L70.7,389.2 L72.3,389.1 L73.8,389.1 L75.4,389.0 L77.0,388.9 L78.5,388.8 L80.1,388.8 L81.7,388.7 L83.2,388.6 L84.8,388.5 L86.4,388.5 L87.9,388.4 L89.5,388.3 L91.0,388.3 L92.6,388.2 L94.2,388.1 L95.7,388.1 L97.3,388.0 L98.9,388.0 L100.4,387.9 L102.0,387.9 L103.6,387.8 L105.1,387.8 L106.7,387.7 L108.2,387.7 L109.8,387.6 L111.4,387.6 L112.9,387.6 L114.5,387.5 L116.1,387.5 L117.6,387.5 L119.2,387.4 L120.8,387.4 L122.3,387.4 L123.9,387.4 L125.5,387.4 L127.0,387.4 L128.6,387.4 L130.1,387.3 L131.7,387.3 L133.3,387.3 L134.8,387.3 L136.4,387.3 L138.0,387.3 L139.5,387.3 L141.1,387.3 L142.7,387.3 L144.2,387.3 L145.8,387.3 L147.3,387.3 L148.9,387.2 L150.5,387.2 L152.0,387.2 L153.6,387.2 L155.2,387.2 L156.7,387.2 L158.3,387.2 L159.9,387.2 L161.4,387.2 L163.0,387.2 L164.6,387.2 L166.1,387.2 L167.7,387.2 L169.2,387.2 L170.8,387.2 L172.4,387.2 L173.9,387.1 L175.5,387.1 L177.1,387.1 L178.6,387.1 L180.2,387.1 L181.8,387.1 L183.3,387.1 L184.9,387.1 L186.4,387.1 L188.0,387.1 L189.6,387.1 L191.1,387.1 L192.7,387.1 L194.3,387.1 L195.8,387.1 L197.4,387.1 L199.0,387.1 L200.5,387.1 L202.1,387.1 L203.7,387.1 L205.2,387.1 L206.8,387.1 L208.3,387.1 L209.9,387.1 L211.5,387.1 L213.0,387.1 L214.6,387.1 L216.2,387.1 L217.7,387.1 L219.3,387.1 L220.9,387.1 L222.4,387.1 L224.0,387.0 L225.5,387.0 L227.1,387.0 L228.7,387.0 L230.2,387.0 L231.8,387.0 L233.4,387.0" fill="none" stroke="#f7d9e0" stroke-width="0.8"/>
<line x1="233.37" y1="370.88" x2="233.37" y2="387.05" stroke="#f7d9e0" stroke-width="0.8"/>
<path d="M47.2,390.5 L48.8,390.4 L50.4,390.3 L51.9,390.2 L53.5,390.1 L55.1,390.0 L56.6,389.9 L58.2,389.7 L59.8,389.6 L61.3,389.5 L62.9,389.3 L64.5,389.1 L66.0,389.0 L67.6,388.8 L69.1,388.6 L70.7,388.5 L72.3,388.3 L73.8,388.1 L75.4,387.9 L77.0,387.7 L78.5,387.5 L80.1,387.3 L81.7,387.0 L83.2,386.8 L84.8,386.6 L86.4,386.4 L87.9,386.1 L89.5,385.9 L91.0,385.6 L92.6,385.4 L94.2,385.1 L95.7,384.9 L97.3,384.6 L98.9,384.3 L100.4,384.1 L102.0,383.8 L103.6,383.5 L105.1,383.2 L106.7,382.9 L108.2,382.7 L109.8,382.4 L111.4,382.1 L112.9,381.8 L114.5,381.5 L116.1,381.2 L117.6,380.9 L119.2,380.6 L120.8,380.3 L122.3,380.0 L123.9,379.7 L125.5,379.4 L127.0,379.0 L128.6,378.7 L130.1,378.4 L131.7,378.0 L133.3,377.7 L134.8,377.3 L136.4,376.9 L138.0,376.5 L139.5,376.1 L141.1,375.7 L142.7,375.3 L144.2,374.9 L145.8,374.4 L147.3,374.0 L148.9,373.5 L150.5,373.1 L152.0,372.6 L153.6,372.1 L155.2,371.6 L156.7,371.1 L158.3,370.6 L159.9,370.1 L161.4,369.6 L163.0,369.0 L164.6,368.5 L166.1,367.9 L167.7,367.4 L169.2,366.8 L170.8,366.1 L172.4,365.5 L173.9,364.8 L175.5,364.2 L177.1,363.5 L178.6,362.8 L180.2,362.0 L181.8,361.3 L183.3,360.5 L184.9,359.8 L186.4,359.0 L188.0,358.3 L189.6,357.5 L191.1,356.8 L192.7,356.0 L194.3,355.3 L195.8,354.6 L197.4,353.9 L199.0,353.2 L200.5,352.6 L202.1,351.9 L203.7,351.3 L205.2,350.7 L206.8,350.1 L208.3,349.6 L209.9,349.0 L211.5,348.5 L213.0,348.0 L214.6,347.4 L216.2,346.9 L217.7,346.4 L219.3,346.0 L220.9,345.5 L222.4,345.0 L224.0,344.6 L225.5,344.1 L227.1,343.7 L228.7,343.2 L230.2,342.8 L231.8,342.4 L233.4,342.0 L233.4,390.5 L231.8,390.5 L230.2,390.5 L228.7,390.5 L227.1,390.5 L225.5,390.5 L224.0,390.5 L222.4,390.5 L220.9,390.5 L219.3,390.5 L217.7,390.5 L216.2,390.5 L214.6,390.5 L213.0,390.5 L211.5,390.5 L209.9,390.5 L208.3,390.5 L206.8,390.5 L205.2,390.5 L203.7,390.5 L202.1,390.5 L200.5,390.5 L199.0,390.5 L197.4,390.5 L195.8,390.5 L194.3,390.5 L192.7,390.5 L191.1,390.5 L189.6,390.5 L188.0,390.5 L186.4,390.5 L184.9,390.5 L183.3,390.5 L181.8,390.5 L180.2,390.5 L178.6,390.5 L177.1,390.5 L175.5,390.5 L173.9,390.5 L172.4,390.5 L170.8,390.5 L169.2,390.5 L167.7,390.5 L166.1,390.5 L164.6,390.5 L163.0,390.5 L161.4,390.5 L159.9,390.5 L158.3,390.5 L156.7,390.5 L155.2,390.5 L153.6,390.5 L152.0,390.5 L150.5,390.5 L148.9,390.5 L147.3,390.5 L145.8,390.5 L144.2,390.5 L142.7,390.5 L141.1,390.5 L139.5,390.5 L138.0,390.5 L136.4,390.5 L134.8,390.5 L133.3,390.5 L131.7,390.5 L130.1,390.5 L128.6,390.5 L127.0,390.5 L125.5,390.5 L123.9,390.5 L122.3,390.5 L120.8,390.5 L119.2,390.5 L117.6,390.5 L116.1,390.5 L114.5,390.5 L112.9,390.5 L111.4,390.5 L109.8,390.5 L108.2,390.5 L106.7,390.5 L105.1,390.5 L103.6,390.5 L102.0,390.5 L100.4,390.5 L98.9,390.5 L97.3,390.5 L95.7,390.5 L94.2,390.5 L92.6,390.5 L91.0,390.5 L89.5,390.5 L87.9,390.5 L86.4,390.5 L84.8,390.5 L83.2,390.5 L81.7,390.5 L80.1,390.5 L78.5,390.5 L77.0,390.5 L75.4,390.5 L73.8,390.5 L72.3,390.5 L70.7,390.5 L69.1,390.5 L67.6,390.5 L66.0,390.5 L64.5,390.5 L62.9,390.5 L61.3,390.5 L59.8,390.5 L58.2,390.5 L56.6,390.5 L55.1,390.5 L53.5,390.5 L51.9,390.5 L50.4,390.5 L48.8,390.5 L47.2,390.5Z" fill="#ecf7fb" stroke="none"/>
<path d="M47.2,390.5 L48.8,390.4 L50.4,390.3 L51.9,390.2 L53.5,390.1 L55.1,390.0 L56.6,389.9 L58.2,389.7 L59.8,389.6 L61.3,389.5 L62.9,389.3 L64.5,389.1 L66.0,389.0 L67.6,388.8 L69.1,388.6 L70.7,388.5 L72.3,388.3 L73.8,388.1 L75.4,387.9 L77.0,387.7 L78.5,387.5 L80.1,387.3 L81.7,387.0 L83.2,386.8 L84.8,386.6 L86.4,386.4 L87.9,386.1 L89.5,385.9 L91.0,385.6 L92.6,385.4 L94.2,385.1 L95.7,384.9 L97.3,384.6 L98.9,384.3 L100.4,384.1 L102.0,383.8 L103.6,383.5 L105.1,383.2 L106.7,382.9 L108.2,382.7 L109.8,382.4 L111.4,382.1 L112.9,381.8 L114.5,381.5 L116.1,381.2 L117.6,380.9 L119.2,380.6 L120.8,380.3 L122.3,380.0 L123.9,379.7 L125.5,379.4 L127.0,379.0 L128.6,378.7 L130.1,378.4 L131.7,378.0 L133.3,377.7 L134.8,377.3 L136.4,376.9 L138.0,376.5 L139.5,376.1 L141.1,375.7 L142.7,375.3 L144.2,374.9 L145.8,374.4 L147.3,374.0 L148.9,373.5 L150.5,373.1 L152.0,372.6 L153.6,372.1 L155.2,371.6 L156.7,371.1 L158.3,370.6 L159.9,370.1 L161.4,369.6 L163.0,369.0 L164.6,368.5 L166.1,367.9 L167.7,367.4 L169.2,366.8 L170.8,366.1 L172.4,365.5 L173.9,364.8 L175.5,364.2 L177.1,363.5 L178.6,362.8 L180.2,362.0 L181.8,361.3 L183.3,360.5 L184.9,359.8 L186.4,359.0 L188.0,358.3 L189.6,357.5 L191.1,356.8 L192.7,356.0 L194.3,355.3 L195.8,354.6 L197.4,353.9 L199.0,353.2 L200.5,352.6 L202.1,351.9 L203.7,351.3 L205.2,350.7 L206.8,350.1 L208.3,349.6 L209.9,349.0 L211.5,348.5 L213.0,348.0 L214.6,347.4 L216.2,346.9 L217.7,346.4 L219.3,346.0 L220.9,345.5 L222.4,345.0 L224.0,344.6 L225.5,344.1 L227.1,343.7 L228.7,343.2 L230.2,342.8 L231.8,342.4 L233.4,342.0" fill="none" stroke="#9dd5e4" stroke-width="0.8"/>
<path d="M47.2,390.5 L48.8,390.5 L50.4,390.5 L51.9,390.5 L53.5,390.5 L55.1,390.5 L56.6,390.5 L58.2,390.5 L59.8,390.5 L61.3,390.5 L62.9,390.5 L64.5,390.5 L66.0,390.5 L67.6,390.5 L69.1,390.5 L70.7,390.5 L72.3,390.5 L73.8,390.5 L75.4,390.5 L77.0,390.5 L78.5,390.5 L80.1,390.5 L81.7,390.5 L83.2,390.5 L84.8,390.5 L86.4,390.5 L87.9,390.5 L89.5,390.5 L91.0,390.5 L92.6,390.5 L94.2,390.5 L95.7,390.5 L97.3,390.5 L98.9,390.5 L100.4,390.5 L102.0,390.5 L103.6,390.5 L105.1,390.5 L106.7,390.5 L108.2,390.5 L109.8,390.5 L111.4,390.5 L112.9,390.5 L114.5,390.5 L116.1,390.5 L117.6,390.5 L119.2,390.5 L120.8,390.5 L122.3,390.5 L123.9,390.5 L125.5,390.5 L127.0,390.5 L128.6,390.5 L130.1,390.5 L131.7,390.5 L133.3,390.5 L134.8,390.5 L136.4,390.5 L138.0,390.5 L139.5,390.5 L141.1,390.5 L142.7,390.5 L144.2,390.5 L145.8,390.5 L147.3,390.5 L148.9,390.5 L150.5,390.5 L152.0,390.5 L153.6,390.5 L155.2,390.5 L156.7,390.5 L158.3,390.5 L159.9,390.5 L161.4,390.5 L163.0,390.5 L164.6,390.5 L166.1,390.5 L167.7,390.5 L169.2,390.5 L170.8,390.5 L172.4,390.5 L173.9,390.5 L175.5,390.5 L177.1,390.5 L178.6,390.5 L180.2,390.5 L181.8,390.5 L183.3,390.5 L184.9,390.5 L186.4,390.5 L188.0,390.5 L189.6,390.5 L191.1,390.5 L192.7,390.5 L194.3,390.5 L195.8,390.5 L197.4,390.5 L199.0,390.5 L200.5,390.5 L202.1,390.5 L203.7,390.5 L205.2,390.5 L206.8,390.5 L208.3,390.5 L209.9,390.5 L211.5,390.5 L213.0,390.5 L214.6,390.5 L216.2,390.5 L217.7,390.5 L219.3,390.5 L220.9,390.5 L222.4,390.5 L224.0,390.5 L225.5,390.5 L227.1,390.5 L228.7,390.5 L230.2,390.5 L231.8,390.5 L233.4,390.5" fill="none" stroke="#9dd5e4" stroke-width="0.8"/>
<line x1="233.37" y1="341.99" x2="233.37" y2="390.50" stroke="#9dd5e4" stroke-width="0.8"/>
<line x1="47.50" y1="233.50" x2="47.50" y2="390.50" stroke="#555555" stroke-width="1" stroke-dasharray="1,3"/>
<line x1="86.50" y1="233.50" x2="86.50" y2="390.50" stroke="#555555" stroke-width="1" stroke-dasharray="1,3"/>
<line x1="126.50" y1="233.50" x2="126.50" y2="390.50" stroke="#555555" stroke-width="1" stroke-dasharray="1,3"/>
<line x1="166.50" y1="233.50" x2="166.50" y2="390.50" stroke="#555555" stroke-width="1" stroke-dasharray="1,3"/>
<line x1="205.50" y1="233.50" x2="205.50" y2="390.50" stroke="#555555" stroke-width="1" stroke-dasharray="1,3"/>
<line x1="47.25" y1="350.50" x2="246.50" y2="350.50" stroke="#555555" stroke-width="1" stroke-dasharray="1,3"/>
<line x1="47.25" y1="311.50" x2="246.50" y2="311.50" stroke="#555555" stroke-width="1" stroke-dasharray="1,3"/>
<line x1="47.25" y1="272.50" x2="246.50" y2="272.50" stroke="#555555" stroke-width="1" stroke-dasharray="1,3"/>
<path d="M47.2,388.7 L48.4,388.2 L49.6,387.5 L50.8,386.7 L51.9,385.8 L53.1,384.8 L54.3,383.6 L55.4,382.3 L56.6,380.7 L57.8,379.1 L59.0,377.2 L60.1,375.3 L61.3,373.2 L62.5,371.0 L63.6,368.8 L64.8,366.4 L66.0,364.1 L67.1,361.7 L68.3,359.3 L69.5,356.8 L70.7,354.3 L71.8,351.8 L73.0,349.3 L74.2,346.7 L75.3,344.2 L76.5,341.6 L77.7,339.0 L78.9,336.4 L80.0,333.9 L81.2,331.4 L82.4,328.9 L83.5,326.5 L84.7,324.1 L85.9,321.8 L87.0,319.5 L88.2,317.3 L89.4,315.1 L90.6,312.9 L91.7,310.7 L92.9,308.5 L94.1,306.4 L95.2,304.3 L96.4,302.3 L97.6,300.4 L98.8,298.6 L99.9,296.8 L101.1,295.2 L102.3,293.7 L103.4,292.3 L104.6,291.1 L105.8,289.9 L106.9,288.8 L108.1,287.9 L109.3,287.0 L110.5,286.2 L111.6,285.4 L112.8,284.7 L114.0,284.1 L115.1,283.5 L116.3,282.9 L117.5,282.4 L118.7,281.9 L119.8,281.5 L121.0,281.1 L122.2,280.7 L123.3,280.3 L124.5,280.0 L125.7,279.7 L126.8,279.4 L128.0,279.1 L129.2,278.9 L130.4,278.7 L131.5,278.4 L132.7,278.2 L133.9,278.0 L135.0,277.8 L136.2,277.6 L137.4,277.4 L138.6,277.3 L139.7,277.1 L140.9,276.9 L142.1,276.8 L143.2,276.7 L144.4,276.5 L145.6,276.4 L146.7,276.3 L147.9,276.2 L149.1,276.2 L150.3,276.1 L151.4,276.0 L152.6,276.0 L153.8,275.9 L154.9,275.9 L156.1,275.8 L157.3,275.8 L158.5,275.8 L159.6,275.7 L160.8,275.7 L162.0,275.7 L163.1,275.6 L164.3,275.6 L165.5,275.6 L166.6,275.6 L167.8,275.5 L169.0,275.5 L170.2,275.5 L171.3,275.4 L172.5,275.4 L173.7,275.3 L174.8,275.3 L176.0,275.3 L177.2,275.2 L178.4,275.2 L179.5,275.2 L180.7,275.1 L181.9,275.1 L183.0,275.1 L184.2,275.0 L185.4,275.0 L186.5,275.0 L187.7,274.9 L188.9,274.9 L190.1,274.8 L191.2,274.8 L192.4,274.7 L193.6,274.7 L194.7,274.7 L195.9,274.6 L197.1,274.6 L198.3,274.5 L199.4,274.5 L200.6,274.4 L201.8,274.3 L202.9,274.3 L204.1,274.2 L205.3,274.2 L206.4,274.1 L207.6,274.0 L208.8,273.9 L210.0,273.8 L211.1,273.8 L212.3,273.7 L213.5,273.6 L214.6,273.5 L215.8,273.3 L217.0,273.2 L218.2,273.1 L219.3,273.0 L220.5,272.9 L221.7,272.7 L222.8,272.6 L224.0,272.5 L225.2,272.3 L226.3,272.2 L227.5,272.1 L228.7,271.9 L229.9,271.8 L231.0,271.6 L232.2,271.5 L233.4,271.3" fill="none" stroke="#000" stroke-width="2.10" stroke-linejoin="round"/>
<path d="M47.2,390.5 L48.4,390.5 L49.6,390.5 L50.8,390.5 L51.9,390.5 L53.1,390.4 L54.3,390.4 L55.4,390.4 L56.6,390.4 L57.8,390.4 L59.0,390.3 L60.1,390.3 L61.3,390.3 L62.5,390.3 L63.6,390.2 L64.8,390.2 L66.0,390.2 L67.1,390.1 L68.3,390.1 L69.5,390.1 L70.7,390.0 L71.8,390.0 L73.0,389.9 L74.2,389.9 L75.3,389.9 L76.5,389.8 L77.7,389.8 L78.9,389.7 L80.0,389.7 L81.2,389.6 L82.4,389.6 L83.5,389.5 L84.7,389.5 L85.9,389.4 L87.0,389.4 L88.2,389.3 L89.4,389.3 L90.6,389.2 L91.7,389.2 L92.9,389.1 L94.1,389.0 L95.2,389.0 L96.4,388.9 L97.6,388.9 L98.8,388.8 L99.9,388.8 L101.1,388.7 L102.3,388.6 L103.4,388.6 L104.6,388.5 L105.8,388.4 L106.9,388.3 L108.1,388.3 L109.3,388.2 L110.5,388.1 L111.6,388.0 L112.8,387.9 L114.0,387.8 L115.1,387.7 L116.3,387.6 L117.5,387.5 L118.7,387.4 L119.8,387.3 L121.0,387.2 L122.2,387.1 L123.3,387.0 L124.5,386.9 L125.7,386.8 L126.8,386.7 L128.0,386.5 L129.2,386.4 L130.4,386.3 L131.5,386.2 L132.7,386.0 L133.9,385.9 L135.0,385.8 L136.2,385.6 L137.4,385.5 L138.6,385.3 L139.7,385.2 L140.9,385.0 L142.1,384.8 L143.2,384.7 L144.4,384.5 L145.6,384.3 L146.7,384.2 L147.9,384.0 L149.1,383.8 L150.3,383.6 L151.4,383.5 L152.6,383.3 L153.8,383.1 L154.9,382.9 L156.1,382.7 L157.3,382.5 L158.5,382.3 L159.6,382.1 L160.8,382.0 L162.0,381.8 L163.1,381.6 L164.3,381.3 L165.5,381.1 L166.6,380.9 L167.8,380.7 L169.0,380.5 L170.2,380.3 L171.3,380.0 L172.5,379.8 L173.7,379.5 L174.8,379.3 L176.0,379.0 L177.2,378.8 L178.4,378.5 L179.5,378.2 L180.7,378.0 L181.9,377.7 L183.0,377.4 L184.2,377.2 L185.4,376.9 L186.5,376.6 L187.7,376.3 L188.9,376.1 L190.1,375.8 L191.2,375.5 L192.4,375.3 L193.6,375.0 L194.7,374.8 L195.9,374.5 L197.1,374.3 L198.3,374.1 L199.4,373.9 L200.6,373.6 L201.8,373.4 L202.9,373.2 L204.1,373.1 L205.3,372.9 L206.4,372.7 L207.6,372.5 L208.8,372.4 L210.0,372.2 L211.1,372.0 L212.3,371.9 L213.5,371.7 L214.6,371.6 L215.8,371.5 L217.0,371.3 L218.2,371.2 L219.3,371.1 L220.5,370.9 L221.7,370.8 L222.8,370.7 L224.0,370.6 L225.2,370.5 L226.3,370.4 L227.5,370.3 L228.7,370.2 L229.9,370.1 L231.0,370.0 L232.2,369.9 L233.4,369.8" fill="none" stroke="#1c2f78" stroke-width="2.10" stroke-linejoin="round"/>
<path d="M47.2,390.5 L48.4,390.4 L49.6,390.2 L50.8,390.1 L51.9,389.9 L53.1,389.8 L54.3,389.7 L55.4,389.5 L56.6,389.4 L57.8,389.2 L59.0,389.1 L60.1,389.0 L61.3,388.8 L62.5,388.7 L63.6,388.6 L64.8,388.4 L66.0,388.3 L67.1,388.1 L68.3,388.0 L69.5,387.9 L70.7,387.7 L71.8,387.6 L73.0,387.5 L74.2,387.3 L75.3,387.2 L76.5,387.1 L77.7,387.0 L78.9,386.8 L80.0,386.7 L81.2,386.6 L82.4,386.4 L83.5,386.3 L84.7,386.2 L85.9,386.0 L87.0,385.9 L88.2,385.8 L89.4,385.7 L90.6,385.5 L91.7,385.4 L92.9,385.3 L94.1,385.2 L95.2,385.0 L96.4,384.9 L97.6,384.8 L98.8,384.7 L99.9,384.5 L101.1,384.4 L102.3,384.3 L103.4,384.1 L104.6,384.0 L105.8,383.9 L106.9,383.7 L108.1,383.6 L109.3,383.5 L110.5,383.4 L111.6,383.2 L112.8,383.1 L114.0,383.0 L115.1,382.9 L116.3,382.7 L117.5,382.6 L118.7,382.5 L119.8,382.4 L121.0,382.3 L122.2,382.2 L123.3,382.1 L124.5,382.0 L125.7,381.9 L126.8,381.9 L128.0,381.8 L129.2,381.7 L130.4,381.6 L131.5,381.6 L132.7,381.5 L133.9,381.4 L135.0,381.4 L136.2,381.3 L137.4,381.3 L138.6,381.2 L139.7,381.1 L140.9,381.1 L142.1,381.0 L143.2,381.0 L144.4,380.9 L145.6,380.9 L146.7,380.8 L147.9,380.8 L149.1,380.7 L150.3,380.7 L151.4,380.6 L152.6,380.6 L153.8,380.5 L154.9,380.5 L156.1,380.5 L157.3,380.5 L158.5,380.4 L159.6,380.4 L160.8,380.4 L162.0,380.4 L163.1,380.3 L164.3,380.3 L165.5,380.3 L166.6,380.3 L167.8,380.3 L169.0,380.3 L170.2,380.3 L171.3,380.3 L172.5,380.3 L173.7,380.3 L174.8,380.3 L176.0,380.3 L177.2,380.2 L178.4,380.2 L179.5,380.2 L180.7,380.2 L181.9,380.2 L183.0,380.2 L184.2,380.2 L185.4,380.2 L186.5,380.2 L187.7,380.2 L188.9,380.2 L190.1,380.2 L191.2,380.2 L192.4,380.2 L193.6,380.2 L194.7,380.2 L195.9,380.2 L197.1,380.2 L198.3,380.2 L199.4,380.2 L200.6,380.2 L201.8,380.2 L202.9,380.2 L204.1,380.2 L205.3,380.2 L206.4,380.2 L207.6,380.2 L208.8,380.2 L210.0,380.2 L211.1,380.2 L212.3,380.2 L213.5,380.2 L214.6,380.2 L215.8,380.1 L217.0,380.1 L218.2,380.1 L219.3,380.1 L220.5,380.1 L221.7,380.1 L222.8,380.1 L224.0,380.1 L225.2,380.1 L226.3,380.1 L227.5,380.1 L228.7,380.1 L229.9,380.1 L231.0,380.1 L232.2,380.1 L233.4,380.1" fill="none" stroke="#c3112f" stroke-width="2.10" stroke-linejoin="round"/>
<rect x="47.50" y="233.50" width="199.00" height="157.00" fill="none" stroke="#5c5c5c" stroke-width="1"/>
<line x1="47.50" y1="390.50" x2="47.50" y2="392.50" stroke="#5c5c5c" stroke-width="1"/>
<line x1="86.50" y1="390.50" x2="86.50" y2="392.50" stroke="#5c5c5c" stroke-width="1"/>
<line x1="126.50" y1="390.50" x2="126.50" y2="392.50" stroke="#5c5c5c" stroke-width="1"/>
<line x1="166.50" y1="390.50" x2="166.50" y2="392.50" stroke="#5c5c5c" stroke-width="1"/>
<line x1="205.50" y1="390.50" x2="205.50" y2="392.50" stroke="#5c5c5c" stroke-width="1"/>
<line x1="45.00" y1="390.50" x2="47.00" y2="390.50" stroke="#5c5c5c" stroke-width="1"/>
<line x1="45.00" y1="350.50" x2="47.00" y2="350.50" stroke="#5c5c5c" stroke-width="1"/>
<line x1="45.00" y1="311.50" x2="47.00" y2="311.50" stroke="#5c5c5c" stroke-width="1"/>
<line x1="45.00" y1="272.50" x2="47.00" y2="272.50" stroke="#5c5c5c" stroke-width="1"/>
<line x1="45.00" y1="233.50" x2="47.00" y2="233.50" stroke="#5c5c5c" stroke-width="1"/>
<line x1="86.50" y1="231.50" x2="86.50" y2="233.50" stroke="#5c5c5c" stroke-width="1"/>
<line x1="126.50" y1="231.50" x2="126.50" y2="233.50" stroke="#5c5c5c" stroke-width="1"/>
<line x1="166.50" y1="231.50" x2="166.50" y2="233.50" stroke="#5c5c5c" stroke-width="1"/>
<line x1="205.50" y1="231.50" x2="205.50" y2="233.50" stroke="#5c5c5c" stroke-width="1"/>
<line x1="245.50" y1="350.50" x2="248.50" y2="350.50" stroke="#5c5c5c" stroke-width="1"/>
<line x1="245.50" y1="311.50" x2="248.50" y2="311.50" stroke="#5c5c5c" stroke-width="1"/>
<line x1="245.50" y1="272.50" x2="248.50" y2="272.50" stroke="#5c5c5c" stroke-width="1"/>
<text x="47.25" y="407.30" text-anchor="middle" class="t">0</text>
<text x="86.85" y="407.30" text-anchor="middle" class="t">10</text>
<text x="126.45" y="407.30" text-anchor="middle" class="t">20</text>
<text x="166.05" y="407.30" text-anchor="middle" class="t">30</text>
<text x="205.65" y="407.30" text-anchor="middle" class="t">40</text>
<text x="42.75" y="395.00" text-anchor="end" class="t">0</text>
<text x="42.75" y="355.75" text-anchor="end" class="t">0.25</text>
<text x="42.75" y="316.50" text-anchor="end" class="t">0.5</text>
<text x="42.75" y="277.25" text-anchor="end" class="t">0.75</text>
<text x="42.75" y="238.00" text-anchor="end" class="t">1</text>
<text x="147.68" y="228.70" text-anchor="middle" class="t">(RAD, CABS) = (0, 5)</text>
<text x="0.50" y="230.30" class="L">C</text>
<text x="146.88" y="422.20" text-anchor="middle" class="t">Age in Years</text>
<path d="M319.5,382.4 L321.1,375.5 L322.6,368.4 L324.2,361.2 L325.8,353.9 L327.3,346.4 L328.9,338.6 L330.5,330.6 L332.0,322.4 L333.6,314.0 L335.2,305.7 L336.7,297.5 L338.3,289.7 L339.9,282.6 L341.5,276.3 L343.0,270.8 L344.6,266.2 L346.2,262.3 L347.7,259.1 L349.3,256.3 L350.9,253.9 L352.4,251.8 L354.0,250.0 L355.6,248.3 L357.1,246.8 L358.7,245.6 L360.3,244.5 L361.8,243.6 L363.4,242.9 L365.0,242.4 L366.5,242.0 L368.1,241.7 L369.7,241.6 L371.2,241.5 L372.8,241.4 L374.4,241.4 L375.9,241.4 L377.5,241.4 L379.1,241.4 L380.7,241.4 L382.2,241.4 L383.8,241.4 L385.4,241.4 L386.9,241.3 L388.5,241.3 L390.1,241.3 L391.6,241.3 L393.2,241.3 L394.8,241.3 L396.3,241.3 L397.9,241.3 L399.5,241.3 L401.0,241.3 L402.6,241.3 L404.2,241.3 L405.7,241.3 L407.3,241.3 L408.9,241.3 L410.4,241.3 L412.0,241.3 L413.6,241.3 L415.1,241.3 L416.7,241.3 L418.3,241.3 L419.9,241.3 L421.4,241.3 L423.0,241.3 L424.6,241.3 L426.1,241.3 L427.7,241.3 L429.3,241.3 L430.8,241.3 L432.4,241.3 L434.0,241.3 L435.5,241.3 L437.1,241.3 L438.7,241.3 L440.2,241.3 L441.8,241.3 L443.4,241.3 L444.9,241.3 L446.5,241.3 L448.1,241.3 L449.6,241.3 L451.2,241.3 L452.8,241.3 L454.3,241.3 L455.9,241.3 L457.5,241.3 L459.1,241.3 L460.6,241.3 L462.2,241.3 L463.8,241.3 L465.3,241.3 L466.9,241.3 L468.5,241.3 L470.0,241.3 L471.6,241.3 L473.2,241.3 L474.7,241.3 L476.3,241.3 L477.9,241.3 L479.4,241.3 L481.0,241.3 L482.6,241.3 L484.1,241.3 L485.7,241.3 L487.3,241.3 L488.8,241.3 L490.4,241.3 L492.0,241.3 L493.5,241.3 L495.1,241.3 L496.7,241.3 L498.3,241.3 L499.8,241.3 L501.4,241.3 L503.0,241.3 L504.5,241.3 L506.1,241.3 L506.1,249.2 L504.5,249.2 L503.0,249.2 L501.4,249.2 L499.8,249.2 L498.3,249.2 L496.7,249.2 L495.1,249.2 L493.5,249.2 L492.0,249.2 L490.4,249.2 L488.8,249.2 L487.3,249.2 L485.7,249.3 L484.1,249.3 L482.6,249.3 L481.0,249.3 L479.4,249.3 L477.9,249.3 L476.3,249.3 L474.7,249.3 L473.2,249.3 L471.6,249.4 L470.0,249.4 L468.5,249.4 L466.9,249.4 L465.3,249.4 L463.8,249.4 L462.2,249.5 L460.6,249.5 L459.1,249.5 L457.5,249.5 L455.9,249.6 L454.3,249.6 L452.8,249.6 L451.2,249.6 L449.6,249.7 L448.1,249.7 L446.5,249.7 L444.9,249.8 L443.4,249.8 L441.8,249.8 L440.2,249.9 L438.7,249.9 L437.1,249.9 L435.5,250.0 L434.0,250.0 L432.4,250.0 L430.8,250.1 L429.3,250.1 L427.7,250.2 L426.1,250.2 L424.6,250.3 L423.0,250.3 L421.4,250.4 L419.9,250.4 L418.3,250.5 L416.7,250.5 L415.1,250.6 L413.6,250.7 L412.0,250.7 L410.4,250.8 L408.9,250.8 L407.3,250.9 L405.7,251.0 L404.2,251.0 L402.6,251.1 L401.0,251.2 L399.5,251.2 L397.9,251.3 L396.3,251.4 L394.8,251.5 L393.2,251.6 L391.6,251.6 L390.1,251.7 L388.5,251.8 L386.9,251.9 L385.4,252.0 L383.8,252.2 L382.2,252.4 L380.7,252.7 L379.1,253.2 L377.5,253.8 L375.9,254.7 L374.4,255.8 L372.8,257.2 L371.2,258.8 L369.7,260.7 L368.1,262.9 L366.5,265.3 L365.0,267.9 L363.4,270.8 L361.8,273.7 L360.3,276.9 L358.7,280.1 L357.1,283.6 L355.6,287.1 L354.0,290.8 L352.4,294.8 L350.9,299.0 L349.3,303.5 L347.7,308.3 L346.2,313.4 L344.6,318.7 L343.0,324.2 L341.5,329.7 L339.9,335.1 L338.3,340.4 L336.7,345.5 L335.2,350.3 L333.6,354.9 L332.0,359.2 L330.5,363.3 L328.9,367.2 L327.3,370.9 L325.8,374.4 L324.2,377.8 L322.6,381.0 L321.1,384.1 L319.5,387.1Z" fill="#fbfafb" stroke="none"/>
<path d="M319.5,390.5 L321.1,390.3 L322.6,390.0 L324.2,389.8 L325.8,389.5 L327.3,389.3 L328.9,389.1 L330.5,388.8 L332.0,388.6 L333.6,388.3 L335.2,388.1 L336.7,387.9 L338.3,387.6 L339.9,387.4 L341.5,387.2 L343.0,387.0 L344.6,386.8 L346.2,386.7 L347.7,386.5 L349.3,386.4 L350.9,386.2 L352.4,386.1 L354.0,386.0 L355.6,386.0 L357.1,385.9 L358.7,385.9 L360.3,385.8 L361.8,385.8 L363.4,385.8 L365.0,385.8 L366.5,385.8 L368.1,385.7 L369.7,385.7 L371.2,385.7 L372.8,385.7 L374.4,385.7 L375.9,385.7 L377.5,385.7 L379.1,385.7 L380.7,385.7 L382.2,385.7 L383.8,385.7 L385.4,385.7 L386.9,385.7 L388.5,385.7 L390.1,385.7 L391.6,385.6 L393.2,385.6 L394.8,385.6 L396.3,385.6 L397.9,385.6 L399.5,385.6 L401.0,385.6 L402.6,385.6 L404.2,385.6 L405.7,385.6 L407.3,385.6 L408.9,385.6 L410.4,385.6 L412.0,385.6 L413.6,385.6 L415.1,385.6 L416.7,385.6 L418.3,385.6 L419.9,385.6 L421.4,385.6 L423.0,385.6 L424.6,385.6 L426.1,385.6 L427.7,385.5 L429.3,385.5 L430.8,385.5 L432.4,385.5 L434.0,385.5 L435.5,385.5 L437.1,385.5 L438.7,385.5 L440.2,385.5 L441.8,385.5 L443.4,385.5 L444.9,385.5 L446.5,385.5 L448.1,385.5 L449.6,385.5 L451.2,385.5 L452.8,385.5 L454.3,385.5 L455.9,385.5 L457.5,385.5 L459.1,385.5 L460.6,385.5 L462.2,385.5 L463.8,385.5 L465.3,385.5 L466.9,385.5 L468.5,385.5 L470.0,385.5 L471.6,385.5 L473.2,385.5 L474.7,385.5 L476.3,385.5 L477.9,385.5 L479.4,385.5 L481.0,385.5 L482.6,385.5 L484.1,385.5 L485.7,385.5 L487.3,385.5 L488.8,385.5 L490.4,385.5 L492.0,385.5 L493.5,385.5 L495.1,385.5 L496.7,385.5 L498.3,385.5 L499.8,385.5 L501.4,385.5 L503.0,385.5 L504.5,385.5 L506.1,385.5 L506.1,390.5 L504.5,390.5 L503.0,390.5 L501.4,390.5 L499.8,390.5 L498.3,390.5 L496.7,390.5 L495.1,390.5 L493.5,390.5 L492.0,390.5 L490.4,390.5 L488.8,390.5 L487.3,390.5 L485.7,390.5 L484.1,390.5 L482.6,390.5 L481.0,390.5 L479.4,390.5 L477.9,390.5 L476.3,390.5 L474.7,390.5 L473.2,390.5 L471.6,390.5 L470.0,390.5 L468.5,390.5 L466.9,390.5 L465.3,390.5 L463.8,390.5 L462.2,390.5 L460.6,390.5 L459.1,390.5 L457.5,390.5 L455.9,390.5 L454.3,390.5 L452.8,390.5 L451.2,390.5 L449.6,390.5 L448.1,390.5 L446.5,390.5 L444.9,390.5 L443.4,390.5 L441.8,390.5 L440.2,390.5 L438.7,390.5 L437.1,390.5 L435.5,390.5 L434.0,390.5 L432.4,390.5 L430.8,390.5 L429.3,390.5 L427.7,390.5 L426.1,390.5 L424.6,390.5 L423.0,390.5 L421.4,390.5 L419.9,390.5 L418.3,390.5 L416.7,390.5 L415.1,390.5 L413.6,390.5 L412.0,390.5 L410.4,390.5 L408.9,390.5 L407.3,390.5 L405.7,390.5 L404.2,390.5 L402.6,390.5 L401.0,390.5 L399.5,390.5 L397.9,390.5 L396.3,390.5 L394.8,390.5 L393.2,390.5 L391.6,390.5 L390.1,390.5 L388.5,390.5 L386.9,390.5 L385.4,390.5 L383.8,390.5 L382.2,390.5 L380.7,390.5 L379.1,390.5 L377.5,390.5 L375.9,390.5 L374.4,390.5 L372.8,390.5 L371.2,390.5 L369.7,390.5 L368.1,390.5 L366.5,390.5 L365.0,390.5 L363.4,390.5 L361.8,390.5 L360.3,390.5 L358.7,390.5 L357.1,390.5 L355.6,390.5 L354.0,390.5 L352.4,390.5 L350.9,390.5 L349.3,390.5 L347.7,390.5 L346.2,390.5 L344.6,390.5 L343.0,390.5 L341.5,390.5 L339.9,390.5 L338.3,390.5 L336.7,390.5 L335.2,390.5 L333.6,390.5 L332.0,390.5 L330.5,390.5 L328.9,390.5 L327.3,390.5 L325.8,390.5 L324.2,390.5 L322.6,390.5 L321.1,390.5 L319.5,390.5Z" fill="#fdf7f8" stroke="none"/>
<line x1="319.50" y1="233.50" x2="319.50" y2="390.50" stroke="#555555" stroke-width="1" stroke-dasharray="1,3"/>
<line x1="359.50" y1="233.50" x2="359.50" y2="390.50" stroke="#555555" stroke-width="1" stroke-dasharray="1,3"/>
<line x1="398.50" y1="233.50" x2="398.50" y2="390.50" stroke="#555555" stroke-width="1" stroke-dasharray="1,3"/>
<line x1="438.50" y1="233.50" x2="438.50" y2="390.50" stroke="#555555" stroke-width="1" stroke-dasharray="1,3"/>
<line x1="478.50" y1="233.50" x2="478.50" y2="390.50" stroke="#555555" stroke-width="1" stroke-dasharray="1,3"/>
<line x1="319.50" y1="350.50" x2="518.50" y2="350.50" stroke="#555555" stroke-width="1" stroke-dasharray="1,3"/>
<line x1="319.50" y1="311.50" x2="518.50" y2="311.50" stroke="#555555" stroke-width="1" stroke-dasharray="1,3"/>
<line x1="319.50" y1="272.50" x2="518.50" y2="272.50" stroke="#555555" stroke-width="1" stroke-dasharray="1,3"/>
<path d="M319.5,387.0 L320.7,383.9 L321.8,380.8 L323.0,377.5 L324.2,374.1 L325.4,370.6 L326.5,366.9 L327.7,363.0 L328.9,359.0 L330.1,354.7 L331.2,350.3 L332.4,345.7 L333.6,341.1 L334.8,336.3 L335.9,331.5 L337.1,326.7 L338.3,322.0 L339.4,317.3 L340.6,312.8 L341.8,308.3 L343.0,304.0 L344.1,299.9 L345.3,296.0 L346.5,292.2 L347.7,288.6 L348.8,285.2 L350.0,282.0 L351.2,279.0 L352.4,276.1 L353.5,273.4 L354.7,270.9 L355.9,268.5 L357.1,266.3 L358.2,264.2 L359.4,262.3 L360.6,260.4 L361.7,258.8 L362.9,257.2 L364.1,255.8 L365.3,254.5 L366.4,253.3 L367.6,252.2 L368.8,251.3 L370.0,250.4 L371.1,249.7 L372.3,249.0 L373.5,248.5 L374.7,248.0 L375.8,247.6 L377.0,247.2 L378.2,246.9 L379.3,246.7 L380.5,246.4 L381.7,246.2 L382.9,246.1 L384.0,245.9 L385.2,245.8 L386.4,245.7 L387.6,245.6 L388.7,245.5 L389.9,245.4 L391.1,245.3 L392.3,245.2 L393.4,245.2 L394.6,245.1 L395.8,245.1 L397.0,245.0 L398.1,245.0 L399.3,245.0 L400.5,245.0 L401.6,245.0 L402.8,245.0 L404.0,245.0 L405.2,245.0 L406.3,245.0 L407.5,245.0 L408.7,245.0 L409.9,245.0 L411.0,245.0 L412.2,245.0 L413.4,245.0 L414.6,245.0 L415.7,245.0 L416.9,245.0 L418.1,245.0 L419.2,245.0 L420.4,245.0 L421.6,245.0 L422.8,245.0 L423.9,245.0 L425.1,245.0 L426.3,245.0 L427.5,245.0 L428.6,245.0 L429.8,245.0 L431.0,245.0 L432.2,245.0 L433.3,245.0 L434.5,245.0 L435.7,245.0 L436.9,245.0 L438.0,245.0 L439.2,245.0 L440.4,245.0 L441.5,245.0 L442.7,245.0 L443.9,245.0 L445.1,245.0 L446.2,245.0 L447.4,245.0 L448.6,245.0 L449.8,245.0 L450.9,245.0 L452.1,245.0 L453.3,245.0 L454.5,245.0 L455.6,245.0 L456.8,245.0 L458.0,245.0 L459.1,245.0 L460.3,245.0 L461.5,245.0 L462.7,245.0 L463.8,245.0 L465.0,245.0 L466.2,245.0 L467.4,245.0 L468.5,245.0 L469.7,245.0 L470.9,245.0 L472.1,245.0 L473.2,245.0 L474.4,245.0 L475.6,245.0 L476.8,245.0 L477.9,245.0 L479.1,245.0 L480.3,245.0 L481.4,245.0 L482.6,245.0 L483.8,245.0 L485.0,245.0 L486.1,245.0 L487.3,245.0 L488.5,245.0 L489.7,245.0 L490.8,245.0 L492.0,245.0 L493.2,245.0 L494.4,245.0 L495.5,245.0 L496.7,245.0 L497.9,245.0 L499.0,245.0 L500.2,245.0 L501.4,245.0 L502.6,245.0 L503.7,245.0 L504.9,245.0 L506.1,245.0" fill="none" stroke="#000" stroke-width="2.10" stroke-linejoin="round"/>
<path d="M319.5,390.5 L320.7,390.4 L321.8,390.4 L323.0,390.3 L324.2,390.3 L325.4,390.2 L326.5,390.1 L327.7,390.1 L328.9,390.0 L330.1,390.0 L331.2,389.9 L332.4,389.8 L333.6,389.8 L334.8,389.7 L335.9,389.7 L337.1,389.6 L338.3,389.6 L339.4,389.5 L340.6,389.5 L341.8,389.4 L343.0,389.4 L344.1,389.3 L345.3,389.3 L346.5,389.2 L347.7,389.2 L348.8,389.2 L350.0,389.1 L351.2,389.1 L352.4,389.1 L353.5,389.0 L354.7,389.0 L355.9,389.0 L357.1,389.0 L358.2,389.0 L359.4,388.9 L360.6,388.9 L361.7,388.9 L362.9,388.9 L364.1,388.9 L365.3,388.9 L366.4,388.9 L367.6,388.9 L368.8,388.9 L370.0,388.9 L371.1,388.9 L372.3,388.9 L373.5,388.9 L374.7,388.9 L375.8,388.9 L377.0,388.9 L378.2,388.8 L379.3,388.8 L380.5,388.8 L381.7,388.8 L382.9,388.8 L384.0,388.8 L385.2,388.8 L386.4,388.8 L387.6,388.8 L388.7,388.8 L389.9,388.8 L391.1,388.8 L392.3,388.8 L393.4,388.8 L394.6,388.8 L395.8,388.8 L397.0,388.8 L398.1,388.8 L399.3,388.8 L400.5,388.8 L401.6,388.8 L402.8,388.8 L404.0,388.8 L405.2,388.8 L406.3,388.7 L407.5,388.7 L408.7,388.7 L409.9,388.7 L411.0,388.7 L412.2,388.7 L413.4,388.7 L414.6,388.7 L415.7,388.7 L416.9,388.7 L418.1,388.7 L419.2,388.7 L420.4,388.7 L421.6,388.7 L422.8,388.7 L423.9,388.7 L425.1,388.7 L426.3,388.7 L427.5,388.7 L428.6,388.7 L429.8,388.7 L431.0,388.7 L432.2,388.7 L433.3,388.7 L434.5,388.7 L435.7,388.7 L436.9,388.7 L438.0,388.7 L439.2,388.7 L440.4,388.7 L441.5,388.7 L442.7,388.7 L443.9,388.7 L445.1,388.7 L446.2,388.7 L447.4,388.7 L448.6,388.7 L449.8,388.7 L450.9,388.7 L452.1,388.7 L453.3,388.6 L454.5,388.6 L455.6,388.6 L456.8,388.6 L458.0,388.6 L459.1,388.6 L460.3,388.6 L461.5,388.6 L462.7,388.6 L463.8,388.6 L465.0,388.6 L466.2,388.6 L467.4,388.6 L468.5,388.6 L469.7,388.6 L470.9,388.6 L472.1,388.6 L473.2,388.6 L474.4,388.6 L475.6,388.6 L476.8,388.6 L477.9,388.6 L479.1,388.6 L480.3,388.6 L481.4,388.6 L482.6,388.6 L483.8,388.6 L485.0,388.6 L486.1,388.6 L487.3,388.6 L488.5,388.6 L489.7,388.6 L490.8,388.6 L492.0,388.6 L493.2,388.6 L494.4,388.6 L495.5,388.6 L496.7,388.6 L497.9,388.6 L499.0,388.6 L500.2,388.6 L501.4,388.6 L502.6,388.6 L503.7,388.6 L504.9,388.6 L506.1,388.6" fill="none" stroke="#1c2f78" stroke-width="2.10" stroke-linejoin="round"/>
<path d="M319.5,390.0 L320.7,390.0 L321.8,389.9 L323.0,389.9 L324.2,389.9 L325.4,389.8 L326.5,389.8 L327.7,389.7 L328.9,389.7 L330.1,389.7 L331.2,389.6 L332.4,389.6 L333.6,389.5 L334.8,389.5 L335.9,389.5 L337.1,389.4 L338.3,389.4 L339.4,389.4 L340.6,389.3 L341.8,389.3 L343.0,389.3 L344.1,389.2 L345.3,389.2 L346.5,389.2 L347.7,389.1 L348.8,389.1 L350.0,389.1 L351.2,389.1 L352.4,389.0 L353.5,389.0 L354.7,389.0 L355.9,389.0 L357.1,389.0 L358.2,388.9 L359.4,388.9 L360.6,388.9 L361.7,388.9 L362.9,388.9 L364.1,388.9 L365.3,388.9 L366.4,388.9 L367.6,388.9 L368.8,388.9 L370.0,388.9 L371.1,388.9 L372.3,388.8 L373.5,388.8 L374.7,388.8 L375.8,388.8 L377.0,388.8 L378.2,388.8 L379.3,388.8 L380.5,388.8 L381.7,388.8 L382.9,388.8 L384.0,388.8 L385.2,388.8 L386.4,388.8 L387.6,388.8 L388.7,388.8 L389.9,388.7 L391.1,388.7 L392.3,388.7 L393.4,388.7 L394.6,388.7 L395.8,388.7 L397.0,388.7 L398.1,388.7 L399.3,388.7 L400.5,388.7 L401.6,388.7 L402.8,388.7 L404.0,388.7 L405.2,388.7 L406.3,388.7 L407.5,388.7 L408.7,388.7 L409.9,388.7 L411.0,388.6 L412.2,388.6 L413.4,388.6 L414.6,388.6 L415.7,388.6 L416.9,388.6 L418.1,388.6 L419.2,388.6 L420.4,388.6 L421.6,388.6 L422.8,388.6 L423.9,388.6 L425.1,388.6 L426.3,388.6 L427.5,388.6 L428.6,388.6 L429.8,388.6 L431.0,388.6 L432.2,388.6 L433.3,388.6 L434.5,388.6 L435.7,388.6 L436.9,388.6 L438.0,388.6 L439.2,388.6 L440.4,388.5 L441.5,388.5 L442.7,388.5 L443.9,388.5 L445.1,388.5 L446.2,388.5 L447.4,388.5 L448.6,388.5 L449.8,388.5 L450.9,388.5 L452.1,388.5 L453.3,388.5 L454.5,388.5 L455.6,388.5 L456.8,388.5 L458.0,388.5 L459.1,388.5 L460.3,388.5 L461.5,388.5 L462.7,388.5 L463.8,388.5 L465.0,388.5 L466.2,388.5 L467.4,388.5 L468.5,388.5 L469.7,388.5 L470.9,388.5 L472.1,388.5 L473.2,388.5 L474.4,388.5 L475.6,388.5 L476.8,388.5 L477.9,388.5 L479.1,388.5 L480.3,388.5 L481.4,388.5 L482.6,388.5 L483.8,388.5 L485.0,388.5 L486.1,388.5 L487.3,388.5 L488.5,388.5 L489.7,388.5 L490.8,388.5 L492.0,388.5 L493.2,388.5 L494.4,388.5 L495.5,388.5 L496.7,388.5 L497.9,388.5 L499.0,388.5 L500.2,388.5 L501.4,388.5 L502.6,388.5 L503.7,388.5 L504.9,388.5 L506.1,388.5" fill="none" stroke="#a8143c" stroke-width="3.00" stroke-linejoin="round"/>
<rect x="319.50" y="233.50" width="199.00" height="157.00" fill="none" stroke="#5c5c5c" stroke-width="1"/>
<line x1="319.50" y1="390.50" x2="319.50" y2="392.50" stroke="#5c5c5c" stroke-width="1"/>
<line x1="359.50" y1="390.50" x2="359.50" y2="392.50" stroke="#5c5c5c" stroke-width="1"/>
<line x1="398.50" y1="390.50" x2="398.50" y2="392.50" stroke="#5c5c5c" stroke-width="1"/>
<line x1="438.50" y1="390.50" x2="438.50" y2="392.50" stroke="#5c5c5c" stroke-width="1"/>
<line x1="478.50" y1="390.50" x2="478.50" y2="392.50" stroke="#5c5c5c" stroke-width="1"/>
<line x1="317.00" y1="390.50" x2="319.00" y2="390.50" stroke="#5c5c5c" stroke-width="1"/>
<line x1="317.00" y1="350.50" x2="319.00" y2="350.50" stroke="#5c5c5c" stroke-width="1"/>
<line x1="317.00" y1="311.50" x2="319.00" y2="311.50" stroke="#5c5c5c" stroke-width="1"/>
<line x1="317.00" y1="272.50" x2="319.00" y2="272.50" stroke="#5c5c5c" stroke-width="1"/>
<line x1="317.00" y1="233.50" x2="319.00" y2="233.50" stroke="#5c5c5c" stroke-width="1"/>
<line x1="359.50" y1="231.50" x2="359.50" y2="233.50" stroke="#5c5c5c" stroke-width="1"/>
<line x1="398.50" y1="231.50" x2="398.50" y2="233.50" stroke="#5c5c5c" stroke-width="1"/>
<line x1="438.50" y1="231.50" x2="438.50" y2="233.50" stroke="#5c5c5c" stroke-width="1"/>
<line x1="478.50" y1="231.50" x2="478.50" y2="233.50" stroke="#5c5c5c" stroke-width="1"/>
<line x1="517.50" y1="350.50" x2="520.50" y2="350.50" stroke="#5c5c5c" stroke-width="1"/>
<line x1="517.50" y1="311.50" x2="520.50" y2="311.50" stroke="#5c5c5c" stroke-width="1"/>
<line x1="517.50" y1="272.50" x2="520.50" y2="272.50" stroke="#5c5c5c" stroke-width="1"/>
<text x="319.50" y="407.90" text-anchor="middle" class="t">0</text>
<text x="359.20" y="407.90" text-anchor="middle" class="t">10</text>
<text x="398.90" y="407.90" text-anchor="middle" class="t">20</text>
<text x="438.60" y="407.90" text-anchor="middle" class="t">30</text>
<text x="478.30" y="407.90" text-anchor="middle" class="t">40</text>
<text x="315.00" y="395.00" text-anchor="end" class="t">0</text>
<text x="315.00" y="355.75" text-anchor="end" class="t">0.25</text>
<text x="315.00" y="316.50" text-anchor="end" class="t">0.5</text>
<text x="315.00" y="277.25" text-anchor="end" class="t">0.75</text>
<text x="315.00" y="238.00" text-anchor="end" class="t">1</text>
<text x="419.50" y="228.70" text-anchor="middle" class="t">(RAD, CABS) = (1, 5)</text>
<text x="278.40" y="230.30" class="L">D</text>
<text x="419.00" y="422.20" text-anchor="middle" class="t">Age in Years</text>
<text transform="translate(9.8,94.6) rotate(-90)" text-anchor="middle" class="t" style="font-size:12.7px">Cumulative Incidence</text>
<text transform="translate(9.8,309.6) rotate(-90)" text-anchor="middle" class="t" style="font-size:12.7px">Cumulative Incidence</text>
<rect x="169.5" y="23.5" width="71" height="47" fill="#fff" stroke="#555" stroke-width="1"/>
<line x1="176.2" y1="32.5" x2="198.2" y2="32.5" stroke="#000" stroke-width="2.1"/>
<text x="205" y="36.9" class="t">BMF</text>
<line x1="176.2" y1="47.0" x2="198.2" y2="47.0" stroke="#1c2f78" stroke-width="2.1"/>
<text x="205" y="51.4" class="t">ST</text>
<line x1="176.2" y1="62.0" x2="198.2" y2="62.0" stroke="#c3112f" stroke-width="2.1"/>
<text x="205" y="66.4" class="t">AML</text>
</svg>
</body></html>
